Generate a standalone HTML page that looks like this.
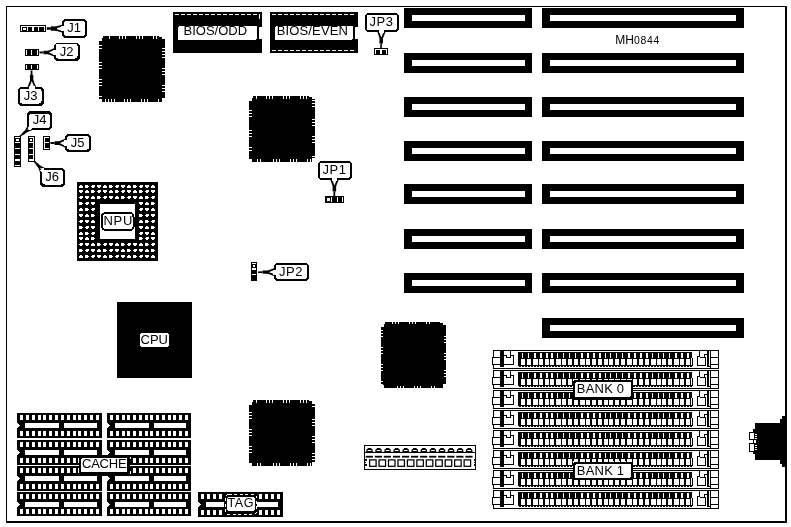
<!DOCTYPE html>
<html><head><meta charset="utf-8"><title>MH0844</title>
<style>
html,body{margin:0;padding:0;background:#fff;}
body{width:791px;height:527px;overflow:hidden;}
svg{display:block;}
text{font-family:"Liberation Sans",sans-serif;fill:#000;}
svg{will-change:transform;}
</style></head><body>
<svg width="791" height="527" viewBox="0 0 791 527" shape-rendering="crispEdges">
<rect width="791" height="527" fill="#fff"/>
<rect x="6" y="6" width="781" height="1" fill="#000"/>
<rect x="6" y="6" width="1" height="517" fill="#000"/>
<rect x="785" y="6" width="2" height="517" fill="#000"/>
<rect x="6" y="521" width="781" height="2" fill="#000"/>
<rect x="404" y="8" width="128" height="20" fill="#000"/>
<rect x="412" y="15" width="113" height="6" fill="#fff"/>
<rect x="542" y="8" width="202" height="20" fill="#000"/>
<rect x="550" y="15" width="186" height="6" fill="#fff"/>
<rect x="404" y="53" width="128" height="20" fill="#000"/>
<rect x="412" y="60" width="113" height="6" fill="#fff"/>
<rect x="542" y="53" width="202" height="20" fill="#000"/>
<rect x="550" y="60" width="186" height="6" fill="#fff"/>
<rect x="404" y="97" width="128" height="20" fill="#000"/>
<rect x="412" y="104" width="113" height="6" fill="#fff"/>
<rect x="542" y="97" width="202" height="20" fill="#000"/>
<rect x="550" y="104" width="186" height="6" fill="#fff"/>
<rect x="404" y="141" width="128" height="20" fill="#000"/>
<rect x="412" y="148" width="113" height="6" fill="#fff"/>
<rect x="542" y="141" width="202" height="20" fill="#000"/>
<rect x="550" y="148" width="186" height="6" fill="#fff"/>
<rect x="404" y="184" width="128" height="20" fill="#000"/>
<rect x="412" y="191" width="113" height="6" fill="#fff"/>
<rect x="542" y="184" width="202" height="20" fill="#000"/>
<rect x="550" y="191" width="186" height="6" fill="#fff"/>
<rect x="404" y="229" width="128" height="20" fill="#000"/>
<rect x="412" y="236" width="113" height="6" fill="#fff"/>
<rect x="542" y="229" width="202" height="20" fill="#000"/>
<rect x="550" y="236" width="186" height="6" fill="#fff"/>
<rect x="404" y="273" width="128" height="20" fill="#000"/>
<rect x="412" y="280" width="113" height="6" fill="#fff"/>
<rect x="542" y="273" width="202" height="20" fill="#000"/>
<rect x="550" y="280" width="186" height="6" fill="#fff"/>
<rect x="542" y="318" width="202" height="20" fill="#000"/>
<rect x="550" y="325" width="186" height="6" fill="#fff"/>
<polygon points="103,36 159,36 159,37 162,37 162,39 165,39 165,98 162,98 162,102 102,102 102,99 99,99 99,41 102,41 102,38 103,38" fill="#000" />
<rect x="109" y="36" width="1" height="3" fill="#fff"/>
<rect x="119" y="36" width="1" height="3" fill="#fff"/>
<rect x="122" y="36" width="1" height="3" fill="#fff"/>
<rect x="125" y="36" width="1" height="3" fill="#fff"/>
<rect x="136" y="36" width="1" height="3" fill="#fff"/>
<rect x="139" y="36" width="1" height="3" fill="#fff"/>
<rect x="142" y="36" width="1" height="3" fill="#fff"/>
<rect x="153" y="36" width="1" height="3" fill="#fff"/>
<rect x="156" y="36" width="1" height="3" fill="#fff"/>
<rect x="105" y="99" width="1" height="3" fill="#fff"/>
<rect x="108" y="99" width="1" height="3" fill="#fff"/>
<rect x="111" y="99" width="1" height="3" fill="#fff"/>
<rect x="114" y="99" width="1" height="3" fill="#fff"/>
<rect x="124" y="99" width="1" height="3" fill="#fff"/>
<rect x="127" y="99" width="1" height="3" fill="#fff"/>
<rect x="130" y="99" width="1" height="3" fill="#fff"/>
<rect x="141" y="99" width="1" height="3" fill="#fff"/>
<rect x="144" y="99" width="1" height="3" fill="#fff"/>
<rect x="147" y="99" width="1" height="3" fill="#fff"/>
<rect x="158" y="99" width="1" height="3" fill="#fff"/>
<rect x="99" y="45" width="3" height="1" fill="#fff"/>
<rect x="99" y="48" width="3" height="1" fill="#fff"/>
<rect x="99" y="62" width="3" height="1" fill="#fff"/>
<rect x="99" y="65" width="3" height="1" fill="#fff"/>
<rect x="99" y="68" width="3" height="1" fill="#fff"/>
<rect x="99" y="79" width="3" height="1" fill="#fff"/>
<rect x="99" y="82" width="3" height="1" fill="#fff"/>
<rect x="99" y="85" width="3" height="1" fill="#fff"/>
<rect x="99" y="96" width="3" height="1" fill="#fff"/>
<rect x="162" y="48" width="3" height="1" fill="#fff"/>
<rect x="162" y="51" width="3" height="1" fill="#fff"/>
<rect x="162" y="54" width="3" height="1" fill="#fff"/>
<rect x="162" y="57" width="3" height="1" fill="#fff"/>
<rect x="162" y="68" width="3" height="1" fill="#fff"/>
<rect x="162" y="71" width="3" height="1" fill="#fff"/>
<rect x="162" y="74" width="3" height="1" fill="#fff"/>
<rect x="162" y="85" width="3" height="1" fill="#fff"/>
<rect x="162" y="88" width="3" height="1" fill="#fff"/>
<rect x="162" y="91" width="3" height="1" fill="#fff"/>
<polygon points="253,96 309,96 309,97 312,97 312,99 315,99 315,158 312,158 312,162 252,162 252,159 249,159 249,101 252,101 252,98 253,98" fill="#000" />
<rect x="256" y="96" width="1" height="3" fill="#fff"/>
<rect x="266" y="96" width="1" height="3" fill="#fff"/>
<rect x="269" y="96" width="1" height="3" fill="#fff"/>
<rect x="272" y="96" width="1" height="3" fill="#fff"/>
<rect x="283" y="96" width="1" height="3" fill="#fff"/>
<rect x="286" y="96" width="1" height="3" fill="#fff"/>
<rect x="289" y="96" width="1" height="3" fill="#fff"/>
<rect x="300" y="96" width="1" height="3" fill="#fff"/>
<rect x="303" y="96" width="1" height="3" fill="#fff"/>
<rect x="306" y="96" width="1" height="3" fill="#fff"/>
<rect x="257" y="159" width="1" height="3" fill="#fff"/>
<rect x="260" y="159" width="1" height="3" fill="#fff"/>
<rect x="273" y="159" width="1" height="3" fill="#fff"/>
<rect x="276" y="159" width="1" height="3" fill="#fff"/>
<rect x="279" y="159" width="1" height="3" fill="#fff"/>
<rect x="290" y="159" width="1" height="3" fill="#fff"/>
<rect x="293" y="159" width="1" height="3" fill="#fff"/>
<rect x="296" y="159" width="1" height="3" fill="#fff"/>
<rect x="307" y="159" width="1" height="3" fill="#fff"/>
<rect x="310" y="159" width="1" height="3" fill="#fff"/>
<rect x="249" y="110" width="3" height="1" fill="#fff"/>
<rect x="249" y="113" width="3" height="1" fill="#fff"/>
<rect x="249" y="116" width="3" height="1" fill="#fff"/>
<rect x="249" y="130" width="3" height="1" fill="#fff"/>
<rect x="249" y="133" width="3" height="1" fill="#fff"/>
<rect x="249" y="136" width="3" height="1" fill="#fff"/>
<rect x="249" y="147" width="3" height="1" fill="#fff"/>
<rect x="249" y="150" width="3" height="1" fill="#fff"/>
<rect x="312" y="100" width="3" height="1" fill="#fff"/>
<rect x="312" y="103" width="3" height="1" fill="#fff"/>
<rect x="312" y="106" width="3" height="1" fill="#fff"/>
<rect x="312" y="119" width="3" height="1" fill="#fff"/>
<rect x="312" y="122" width="3" height="1" fill="#fff"/>
<rect x="312" y="125" width="3" height="1" fill="#fff"/>
<rect x="312" y="136" width="3" height="1" fill="#fff"/>
<rect x="312" y="139" width="3" height="1" fill="#fff"/>
<rect x="312" y="142" width="3" height="1" fill="#fff"/>
<rect x="312" y="156" width="3" height="1" fill="#fff"/>
<polygon points="385,322 440,322 440,323 443,323 443,325 446,325 446,384 443,384 443,388 384,388 384,385 381,385 381,327 384,327 384,324 385,324" fill="#000" />
<rect x="392" y="322" width="1" height="2" fill="#fff"/>
<rect x="395" y="322" width="1" height="2" fill="#fff"/>
<rect x="398" y="322" width="1" height="2" fill="#fff"/>
<rect x="409" y="322" width="1" height="2" fill="#fff"/>
<rect x="412" y="322" width="1" height="2" fill="#fff"/>
<rect x="415" y="322" width="1" height="2" fill="#fff"/>
<rect x="426" y="322" width="1" height="2" fill="#fff"/>
<rect x="429" y="322" width="1" height="2" fill="#fff"/>
<rect x="397" y="386" width="1" height="2" fill="#fff"/>
<rect x="400" y="386" width="1" height="2" fill="#fff"/>
<rect x="403" y="386" width="1" height="2" fill="#fff"/>
<rect x="414" y="386" width="1" height="2" fill="#fff"/>
<rect x="417" y="386" width="1" height="2" fill="#fff"/>
<rect x="420" y="386" width="1" height="2" fill="#fff"/>
<rect x="431" y="386" width="1" height="2" fill="#fff"/>
<rect x="434" y="386" width="1" height="2" fill="#fff"/>
<rect x="381" y="330" width="2" height="1" fill="#fff"/>
<rect x="381" y="333" width="2" height="1" fill="#fff"/>
<rect x="381" y="336" width="2" height="1" fill="#fff"/>
<rect x="381" y="347" width="2" height="1" fill="#fff"/>
<rect x="381" y="350" width="2" height="1" fill="#fff"/>
<rect x="381" y="353" width="2" height="1" fill="#fff"/>
<rect x="381" y="364" width="2" height="1" fill="#fff"/>
<rect x="381" y="367" width="2" height="1" fill="#fff"/>
<rect x="381" y="370" width="2" height="1" fill="#fff"/>
<rect x="381" y="381" width="2" height="1" fill="#fff"/>
<rect x="381" y="384" width="2" height="1" fill="#fff"/>
<rect x="444" y="336" width="2" height="1" fill="#fff"/>
<rect x="444" y="339" width="2" height="1" fill="#fff"/>
<rect x="444" y="342" width="2" height="1" fill="#fff"/>
<rect x="444" y="353" width="2" height="1" fill="#fff"/>
<rect x="444" y="356" width="2" height="1" fill="#fff"/>
<rect x="444" y="359" width="2" height="1" fill="#fff"/>
<rect x="444" y="370" width="2" height="1" fill="#fff"/>
<rect x="444" y="373" width="2" height="1" fill="#fff"/>
<rect x="444" y="376" width="2" height="1" fill="#fff"/>
<polygon points="253,400 309,400 309,401 312,401 312,403 315,403 315,462 312,462 312,466 252,466 252,463 249,463 249,405 252,405 252,402 253,402" fill="#000" />
<rect x="256" y="400" width="1" height="3" fill="#fff"/>
<rect x="266" y="400" width="1" height="3" fill="#fff"/>
<rect x="269" y="400" width="1" height="3" fill="#fff"/>
<rect x="272" y="400" width="1" height="3" fill="#fff"/>
<rect x="283" y="400" width="1" height="3" fill="#fff"/>
<rect x="286" y="400" width="1" height="3" fill="#fff"/>
<rect x="289" y="400" width="1" height="3" fill="#fff"/>
<rect x="300" y="400" width="1" height="3" fill="#fff"/>
<rect x="303" y="400" width="1" height="3" fill="#fff"/>
<rect x="306" y="400" width="1" height="3" fill="#fff"/>
<rect x="257" y="463" width="1" height="3" fill="#fff"/>
<rect x="260" y="463" width="1" height="3" fill="#fff"/>
<rect x="273" y="463" width="1" height="3" fill="#fff"/>
<rect x="276" y="463" width="1" height="3" fill="#fff"/>
<rect x="279" y="463" width="1" height="3" fill="#fff"/>
<rect x="290" y="463" width="1" height="3" fill="#fff"/>
<rect x="293" y="463" width="1" height="3" fill="#fff"/>
<rect x="296" y="463" width="1" height="3" fill="#fff"/>
<rect x="307" y="463" width="1" height="3" fill="#fff"/>
<rect x="310" y="463" width="1" height="3" fill="#fff"/>
<rect x="249" y="412" width="3" height="1" fill="#fff"/>
<rect x="249" y="415" width="3" height="1" fill="#fff"/>
<rect x="249" y="418" width="3" height="1" fill="#fff"/>
<rect x="249" y="429" width="3" height="1" fill="#fff"/>
<rect x="249" y="432" width="3" height="1" fill="#fff"/>
<rect x="249" y="435" width="3" height="1" fill="#fff"/>
<rect x="249" y="446" width="3" height="1" fill="#fff"/>
<rect x="249" y="449" width="3" height="1" fill="#fff"/>
<rect x="249" y="452" width="3" height="1" fill="#fff"/>
<rect x="312" y="403" width="3" height="1" fill="#fff"/>
<rect x="312" y="406" width="3" height="1" fill="#fff"/>
<rect x="312" y="419" width="3" height="1" fill="#fff"/>
<rect x="312" y="422" width="3" height="1" fill="#fff"/>
<rect x="312" y="425" width="3" height="1" fill="#fff"/>
<rect x="312" y="436" width="3" height="1" fill="#fff"/>
<rect x="312" y="439" width="3" height="1" fill="#fff"/>
<rect x="312" y="442" width="3" height="1" fill="#fff"/>
<rect x="312" y="453" width="3" height="1" fill="#fff"/>
<rect x="312" y="456" width="3" height="1" fill="#fff"/>
<rect x="312" y="459" width="3" height="1" fill="#fff"/>
<rect x="173" y="12" width="89" height="41" fill="#000"/>
<line x1="175" y1="14.5" x2="259" y2="14.5" stroke="#fff" stroke-width="1" stroke-dasharray="3.5 2.5"/>
<rect x="259" y="14" width="1" height="5" fill="#fff"/>
<rect x="178" y="26" width="79" height="14" rx="2" fill="#fff"/>
<rect x="259" y="26.5" width="3" height="12.5" fill="#fff"/>
<text x="215.3" y="35" font-size="13" text-anchor="middle" >BIOS/ODD</text>
<rect x="270" y="12" width="88" height="41" fill="#000"/>
<line x1="272" y1="14.5" x2="355" y2="14.5" stroke="#fff" stroke-width="1" stroke-dasharray="3.5 2.5"/>
<line x1="272" y1="50.5" x2="355" y2="50.5" stroke="#fff" stroke-width="1" stroke-dasharray="3.5 2.5"/>
<rect x="275" y="26" width="78" height="14" rx="2" fill="#fff"/>
<rect x="355" y="26.5" width="3" height="12.5" fill="#fff"/>
<text x="312.4" y="35" font-size="13" text-anchor="middle" letter-spacing="0.15">BIOS/EVEN</text>
<rect x="77" y="182" width="81" height="79" fill="#000"/>
<rect x="79" y="186" width="4" height="1" fill="#fff"/>
<rect x="80" y="185" width="2" height="1" fill="#fff"/>
<rect x="79" y="187" width="4" height="1" fill="#fff"/>
<rect x="79" y="191" width="4" height="1" fill="#fff"/>
<rect x="79" y="190" width="4" height="1" fill="#fff"/>
<rect x="80" y="192" width="2" height="1" fill="#fff"/>
<rect x="79" y="197" width="4" height="1" fill="#fff"/>
<rect x="80" y="196" width="3" height="1" fill="#fff"/>
<rect x="80" y="198" width="2" height="1" fill="#fff"/>
<rect x="79" y="203" width="4" height="1" fill="#fff"/>
<rect x="79" y="202" width="3" height="1" fill="#fff"/>
<rect x="79" y="204" width="3" height="1" fill="#fff"/>
<rect x="79" y="209" width="4" height="1" fill="#fff"/>
<rect x="80" y="208" width="2" height="1" fill="#fff"/>
<rect x="79" y="210" width="4" height="1" fill="#fff"/>
<rect x="79" y="215" width="4" height="1" fill="#fff"/>
<rect x="79" y="214" width="4" height="1" fill="#fff"/>
<rect x="80" y="216" width="2" height="1" fill="#fff"/>
<rect x="79" y="221" width="4" height="1" fill="#fff"/>
<rect x="80" y="220" width="3" height="1" fill="#fff"/>
<rect x="80" y="222" width="2" height="1" fill="#fff"/>
<rect x="79" y="227" width="4" height="1" fill="#fff"/>
<rect x="79" y="226" width="3" height="1" fill="#fff"/>
<rect x="79" y="228" width="3" height="1" fill="#fff"/>
<rect x="79" y="233" width="4" height="1" fill="#fff"/>
<rect x="80" y="232" width="2" height="1" fill="#fff"/>
<rect x="79" y="234" width="4" height="1" fill="#fff"/>
<rect x="79" y="238" width="4" height="1" fill="#fff"/>
<rect x="79" y="237" width="4" height="1" fill="#fff"/>
<rect x="80" y="239" width="2" height="1" fill="#fff"/>
<rect x="79" y="244" width="4" height="1" fill="#fff"/>
<rect x="80" y="243" width="3" height="1" fill="#fff"/>
<rect x="80" y="245" width="2" height="1" fill="#fff"/>
<rect x="79" y="250" width="4" height="1" fill="#fff"/>
<rect x="79" y="249" width="3" height="1" fill="#fff"/>
<rect x="79" y="251" width="3" height="1" fill="#fff"/>
<rect x="79" y="256" width="4" height="1" fill="#fff"/>
<rect x="80" y="255" width="2" height="1" fill="#fff"/>
<rect x="79" y="257" width="4" height="1" fill="#fff"/>
<rect x="85" y="186" width="4" height="1" fill="#fff"/>
<rect x="85" y="185" width="3" height="1" fill="#fff"/>
<rect x="85" y="187" width="3" height="1" fill="#fff"/>
<rect x="85" y="191" width="4" height="1" fill="#fff"/>
<rect x="86" y="190" width="2" height="1" fill="#fff"/>
<rect x="85" y="192" width="4" height="1" fill="#fff"/>
<rect x="85" y="197" width="4" height="1" fill="#fff"/>
<rect x="85" y="196" width="4" height="1" fill="#fff"/>
<rect x="86" y="198" width="2" height="1" fill="#fff"/>
<rect x="85" y="203" width="4" height="1" fill="#fff"/>
<rect x="86" y="202" width="3" height="1" fill="#fff"/>
<rect x="86" y="204" width="2" height="1" fill="#fff"/>
<rect x="85" y="209" width="4" height="1" fill="#fff"/>
<rect x="85" y="208" width="3" height="1" fill="#fff"/>
<rect x="85" y="210" width="3" height="1" fill="#fff"/>
<rect x="85" y="215" width="4" height="1" fill="#fff"/>
<rect x="86" y="214" width="2" height="1" fill="#fff"/>
<rect x="85" y="216" width="4" height="1" fill="#fff"/>
<rect x="85" y="221" width="4" height="1" fill="#fff"/>
<rect x="85" y="220" width="4" height="1" fill="#fff"/>
<rect x="86" y="222" width="2" height="1" fill="#fff"/>
<rect x="85" y="227" width="4" height="1" fill="#fff"/>
<rect x="86" y="226" width="3" height="1" fill="#fff"/>
<rect x="86" y="228" width="2" height="1" fill="#fff"/>
<rect x="85" y="233" width="4" height="1" fill="#fff"/>
<rect x="85" y="232" width="3" height="1" fill="#fff"/>
<rect x="85" y="234" width="3" height="1" fill="#fff"/>
<rect x="85" y="238" width="4" height="1" fill="#fff"/>
<rect x="86" y="237" width="2" height="1" fill="#fff"/>
<rect x="85" y="239" width="4" height="1" fill="#fff"/>
<rect x="85" y="244" width="4" height="1" fill="#fff"/>
<rect x="85" y="243" width="4" height="1" fill="#fff"/>
<rect x="86" y="245" width="2" height="1" fill="#fff"/>
<rect x="85" y="250" width="4" height="1" fill="#fff"/>
<rect x="86" y="249" width="3" height="1" fill="#fff"/>
<rect x="86" y="251" width="2" height="1" fill="#fff"/>
<rect x="85" y="256" width="4" height="1" fill="#fff"/>
<rect x="85" y="255" width="3" height="1" fill="#fff"/>
<rect x="85" y="257" width="3" height="1" fill="#fff"/>
<rect x="91" y="186" width="4" height="1" fill="#fff"/>
<rect x="92" y="185" width="3" height="1" fill="#fff"/>
<rect x="92" y="187" width="2" height="1" fill="#fff"/>
<rect x="91" y="191" width="4" height="1" fill="#fff"/>
<rect x="91" y="190" width="3" height="1" fill="#fff"/>
<rect x="91" y="192" width="3" height="1" fill="#fff"/>
<rect x="91" y="197" width="4" height="1" fill="#fff"/>
<rect x="92" y="196" width="2" height="1" fill="#fff"/>
<rect x="91" y="198" width="4" height="1" fill="#fff"/>
<rect x="91" y="203" width="4" height="1" fill="#fff"/>
<rect x="91" y="202" width="4" height="1" fill="#fff"/>
<rect x="92" y="204" width="2" height="1" fill="#fff"/>
<rect x="91" y="209" width="4" height="1" fill="#fff"/>
<rect x="92" y="208" width="3" height="1" fill="#fff"/>
<rect x="92" y="210" width="2" height="1" fill="#fff"/>
<rect x="91" y="215" width="4" height="1" fill="#fff"/>
<rect x="91" y="214" width="3" height="1" fill="#fff"/>
<rect x="91" y="216" width="3" height="1" fill="#fff"/>
<rect x="91" y="221" width="4" height="1" fill="#fff"/>
<rect x="92" y="220" width="2" height="1" fill="#fff"/>
<rect x="91" y="222" width="4" height="1" fill="#fff"/>
<rect x="91" y="227" width="4" height="1" fill="#fff"/>
<rect x="91" y="226" width="4" height="1" fill="#fff"/>
<rect x="92" y="228" width="2" height="1" fill="#fff"/>
<rect x="91" y="233" width="4" height="1" fill="#fff"/>
<rect x="92" y="232" width="3" height="1" fill="#fff"/>
<rect x="92" y="234" width="2" height="1" fill="#fff"/>
<rect x="91" y="238" width="4" height="1" fill="#fff"/>
<rect x="91" y="237" width="3" height="1" fill="#fff"/>
<rect x="91" y="239" width="3" height="1" fill="#fff"/>
<rect x="91" y="244" width="4" height="1" fill="#fff"/>
<rect x="92" y="243" width="2" height="1" fill="#fff"/>
<rect x="91" y="245" width="4" height="1" fill="#fff"/>
<rect x="91" y="250" width="4" height="1" fill="#fff"/>
<rect x="91" y="249" width="4" height="1" fill="#fff"/>
<rect x="92" y="251" width="2" height="1" fill="#fff"/>
<rect x="91" y="256" width="4" height="1" fill="#fff"/>
<rect x="92" y="255" width="3" height="1" fill="#fff"/>
<rect x="92" y="257" width="2" height="1" fill="#fff"/>
<rect x="97" y="186" width="4" height="1" fill="#fff"/>
<rect x="97" y="185" width="4" height="1" fill="#fff"/>
<rect x="98" y="187" width="2" height="1" fill="#fff"/>
<rect x="97" y="191" width="4" height="1" fill="#fff"/>
<rect x="98" y="190" width="3" height="1" fill="#fff"/>
<rect x="98" y="192" width="2" height="1" fill="#fff"/>
<rect x="97" y="197" width="4" height="1" fill="#fff"/>
<rect x="97" y="196" width="3" height="1" fill="#fff"/>
<rect x="97" y="198" width="3" height="1" fill="#fff"/>
<rect x="97" y="244" width="4" height="1" fill="#fff"/>
<rect x="97" y="243" width="3" height="1" fill="#fff"/>
<rect x="97" y="245" width="3" height="1" fill="#fff"/>
<rect x="97" y="250" width="4" height="1" fill="#fff"/>
<rect x="98" y="249" width="2" height="1" fill="#fff"/>
<rect x="97" y="251" width="4" height="1" fill="#fff"/>
<rect x="97" y="256" width="4" height="1" fill="#fff"/>
<rect x="97" y="255" width="4" height="1" fill="#fff"/>
<rect x="98" y="257" width="2" height="1" fill="#fff"/>
<rect x="103" y="186" width="4" height="1" fill="#fff"/>
<rect x="104" y="185" width="2" height="1" fill="#fff"/>
<rect x="103" y="187" width="4" height="1" fill="#fff"/>
<rect x="103" y="191" width="4" height="1" fill="#fff"/>
<rect x="103" y="190" width="4" height="1" fill="#fff"/>
<rect x="104" y="192" width="2" height="1" fill="#fff"/>
<rect x="103" y="197" width="4" height="1" fill="#fff"/>
<rect x="104" y="196" width="3" height="1" fill="#fff"/>
<rect x="104" y="198" width="2" height="1" fill="#fff"/>
<rect x="103" y="244" width="4" height="1" fill="#fff"/>
<rect x="104" y="243" width="3" height="1" fill="#fff"/>
<rect x="104" y="245" width="2" height="1" fill="#fff"/>
<rect x="103" y="250" width="4" height="1" fill="#fff"/>
<rect x="103" y="249" width="3" height="1" fill="#fff"/>
<rect x="103" y="251" width="3" height="1" fill="#fff"/>
<rect x="103" y="256" width="4" height="1" fill="#fff"/>
<rect x="104" y="255" width="2" height="1" fill="#fff"/>
<rect x="103" y="257" width="4" height="1" fill="#fff"/>
<rect x="109" y="186" width="4" height="1" fill="#fff"/>
<rect x="109" y="185" width="3" height="1" fill="#fff"/>
<rect x="109" y="187" width="3" height="1" fill="#fff"/>
<rect x="109" y="191" width="4" height="1" fill="#fff"/>
<rect x="110" y="190" width="2" height="1" fill="#fff"/>
<rect x="109" y="192" width="4" height="1" fill="#fff"/>
<rect x="109" y="197" width="4" height="1" fill="#fff"/>
<rect x="109" y="196" width="4" height="1" fill="#fff"/>
<rect x="110" y="198" width="2" height="1" fill="#fff"/>
<rect x="109" y="244" width="4" height="1" fill="#fff"/>
<rect x="109" y="243" width="4" height="1" fill="#fff"/>
<rect x="110" y="245" width="2" height="1" fill="#fff"/>
<rect x="109" y="250" width="4" height="1" fill="#fff"/>
<rect x="110" y="249" width="3" height="1" fill="#fff"/>
<rect x="110" y="251" width="2" height="1" fill="#fff"/>
<rect x="109" y="256" width="4" height="1" fill="#fff"/>
<rect x="109" y="255" width="3" height="1" fill="#fff"/>
<rect x="109" y="257" width="3" height="1" fill="#fff"/>
<rect x="115" y="186" width="4" height="1" fill="#fff"/>
<rect x="116" y="185" width="3" height="1" fill="#fff"/>
<rect x="116" y="187" width="2" height="1" fill="#fff"/>
<rect x="115" y="191" width="4" height="1" fill="#fff"/>
<rect x="115" y="190" width="3" height="1" fill="#fff"/>
<rect x="115" y="192" width="3" height="1" fill="#fff"/>
<rect x="115" y="197" width="4" height="1" fill="#fff"/>
<rect x="116" y="196" width="2" height="1" fill="#fff"/>
<rect x="115" y="198" width="4" height="1" fill="#fff"/>
<rect x="115" y="244" width="4" height="1" fill="#fff"/>
<rect x="116" y="243" width="2" height="1" fill="#fff"/>
<rect x="115" y="245" width="4" height="1" fill="#fff"/>
<rect x="115" y="250" width="4" height="1" fill="#fff"/>
<rect x="115" y="249" width="4" height="1" fill="#fff"/>
<rect x="116" y="251" width="2" height="1" fill="#fff"/>
<rect x="115" y="256" width="4" height="1" fill="#fff"/>
<rect x="116" y="255" width="3" height="1" fill="#fff"/>
<rect x="116" y="257" width="2" height="1" fill="#fff"/>
<rect x="121" y="186" width="4" height="1" fill="#fff"/>
<rect x="121" y="185" width="4" height="1" fill="#fff"/>
<rect x="122" y="187" width="2" height="1" fill="#fff"/>
<rect x="121" y="191" width="4" height="1" fill="#fff"/>
<rect x="122" y="190" width="3" height="1" fill="#fff"/>
<rect x="122" y="192" width="2" height="1" fill="#fff"/>
<rect x="121" y="197" width="4" height="1" fill="#fff"/>
<rect x="121" y="196" width="3" height="1" fill="#fff"/>
<rect x="121" y="198" width="3" height="1" fill="#fff"/>
<rect x="121" y="244" width="4" height="1" fill="#fff"/>
<rect x="121" y="243" width="3" height="1" fill="#fff"/>
<rect x="121" y="245" width="3" height="1" fill="#fff"/>
<rect x="121" y="250" width="4" height="1" fill="#fff"/>
<rect x="122" y="249" width="2" height="1" fill="#fff"/>
<rect x="121" y="251" width="4" height="1" fill="#fff"/>
<rect x="121" y="256" width="4" height="1" fill="#fff"/>
<rect x="121" y="255" width="4" height="1" fill="#fff"/>
<rect x="122" y="257" width="2" height="1" fill="#fff"/>
<rect x="127" y="186" width="4" height="1" fill="#fff"/>
<rect x="128" y="185" width="2" height="1" fill="#fff"/>
<rect x="127" y="187" width="4" height="1" fill="#fff"/>
<rect x="127" y="191" width="4" height="1" fill="#fff"/>
<rect x="127" y="190" width="4" height="1" fill="#fff"/>
<rect x="128" y="192" width="2" height="1" fill="#fff"/>
<rect x="127" y="197" width="4" height="1" fill="#fff"/>
<rect x="128" y="196" width="3" height="1" fill="#fff"/>
<rect x="128" y="198" width="2" height="1" fill="#fff"/>
<rect x="127" y="244" width="4" height="1" fill="#fff"/>
<rect x="128" y="243" width="3" height="1" fill="#fff"/>
<rect x="128" y="245" width="2" height="1" fill="#fff"/>
<rect x="127" y="250" width="4" height="1" fill="#fff"/>
<rect x="127" y="249" width="3" height="1" fill="#fff"/>
<rect x="127" y="251" width="3" height="1" fill="#fff"/>
<rect x="127" y="256" width="4" height="1" fill="#fff"/>
<rect x="128" y="255" width="2" height="1" fill="#fff"/>
<rect x="127" y="257" width="4" height="1" fill="#fff"/>
<rect x="133" y="186" width="4" height="1" fill="#fff"/>
<rect x="133" y="185" width="3" height="1" fill="#fff"/>
<rect x="133" y="187" width="3" height="1" fill="#fff"/>
<rect x="133" y="191" width="4" height="1" fill="#fff"/>
<rect x="134" y="190" width="2" height="1" fill="#fff"/>
<rect x="133" y="192" width="4" height="1" fill="#fff"/>
<rect x="133" y="197" width="4" height="1" fill="#fff"/>
<rect x="133" y="196" width="4" height="1" fill="#fff"/>
<rect x="134" y="198" width="2" height="1" fill="#fff"/>
<rect x="133" y="244" width="4" height="1" fill="#fff"/>
<rect x="133" y="243" width="4" height="1" fill="#fff"/>
<rect x="134" y="245" width="2" height="1" fill="#fff"/>
<rect x="133" y="250" width="4" height="1" fill="#fff"/>
<rect x="134" y="249" width="3" height="1" fill="#fff"/>
<rect x="134" y="251" width="2" height="1" fill="#fff"/>
<rect x="133" y="256" width="4" height="1" fill="#fff"/>
<rect x="133" y="255" width="3" height="1" fill="#fff"/>
<rect x="133" y="257" width="3" height="1" fill="#fff"/>
<rect x="139" y="186" width="4" height="1" fill="#fff"/>
<rect x="140" y="185" width="3" height="1" fill="#fff"/>
<rect x="140" y="187" width="2" height="1" fill="#fff"/>
<rect x="139" y="191" width="4" height="1" fill="#fff"/>
<rect x="139" y="190" width="3" height="1" fill="#fff"/>
<rect x="139" y="192" width="3" height="1" fill="#fff"/>
<rect x="139" y="197" width="4" height="1" fill="#fff"/>
<rect x="140" y="196" width="2" height="1" fill="#fff"/>
<rect x="139" y="198" width="4" height="1" fill="#fff"/>
<rect x="139" y="203" width="4" height="1" fill="#fff"/>
<rect x="139" y="202" width="4" height="1" fill="#fff"/>
<rect x="140" y="204" width="2" height="1" fill="#fff"/>
<rect x="139" y="209" width="4" height="1" fill="#fff"/>
<rect x="140" y="208" width="3" height="1" fill="#fff"/>
<rect x="140" y="210" width="2" height="1" fill="#fff"/>
<rect x="139" y="215" width="4" height="1" fill="#fff"/>
<rect x="139" y="214" width="3" height="1" fill="#fff"/>
<rect x="139" y="216" width="3" height="1" fill="#fff"/>
<rect x="139" y="221" width="4" height="1" fill="#fff"/>
<rect x="140" y="220" width="2" height="1" fill="#fff"/>
<rect x="139" y="222" width="4" height="1" fill="#fff"/>
<rect x="139" y="227" width="4" height="1" fill="#fff"/>
<rect x="139" y="226" width="4" height="1" fill="#fff"/>
<rect x="140" y="228" width="2" height="1" fill="#fff"/>
<rect x="139" y="233" width="4" height="1" fill="#fff"/>
<rect x="140" y="232" width="3" height="1" fill="#fff"/>
<rect x="140" y="234" width="2" height="1" fill="#fff"/>
<rect x="139" y="238" width="4" height="1" fill="#fff"/>
<rect x="139" y="237" width="3" height="1" fill="#fff"/>
<rect x="139" y="239" width="3" height="1" fill="#fff"/>
<rect x="139" y="244" width="4" height="1" fill="#fff"/>
<rect x="140" y="243" width="2" height="1" fill="#fff"/>
<rect x="139" y="245" width="4" height="1" fill="#fff"/>
<rect x="139" y="250" width="4" height="1" fill="#fff"/>
<rect x="139" y="249" width="4" height="1" fill="#fff"/>
<rect x="140" y="251" width="2" height="1" fill="#fff"/>
<rect x="139" y="256" width="4" height="1" fill="#fff"/>
<rect x="140" y="255" width="3" height="1" fill="#fff"/>
<rect x="140" y="257" width="2" height="1" fill="#fff"/>
<rect x="145" y="186" width="4" height="1" fill="#fff"/>
<rect x="145" y="185" width="4" height="1" fill="#fff"/>
<rect x="146" y="187" width="2" height="1" fill="#fff"/>
<rect x="145" y="191" width="4" height="1" fill="#fff"/>
<rect x="146" y="190" width="3" height="1" fill="#fff"/>
<rect x="146" y="192" width="2" height="1" fill="#fff"/>
<rect x="145" y="197" width="4" height="1" fill="#fff"/>
<rect x="145" y="196" width="3" height="1" fill="#fff"/>
<rect x="145" y="198" width="3" height="1" fill="#fff"/>
<rect x="145" y="203" width="4" height="1" fill="#fff"/>
<rect x="146" y="202" width="2" height="1" fill="#fff"/>
<rect x="145" y="204" width="4" height="1" fill="#fff"/>
<rect x="145" y="209" width="4" height="1" fill="#fff"/>
<rect x="145" y="208" width="4" height="1" fill="#fff"/>
<rect x="146" y="210" width="2" height="1" fill="#fff"/>
<rect x="145" y="215" width="4" height="1" fill="#fff"/>
<rect x="146" y="214" width="3" height="1" fill="#fff"/>
<rect x="146" y="216" width="2" height="1" fill="#fff"/>
<rect x="145" y="221" width="4" height="1" fill="#fff"/>
<rect x="145" y="220" width="3" height="1" fill="#fff"/>
<rect x="145" y="222" width="3" height="1" fill="#fff"/>
<rect x="145" y="227" width="4" height="1" fill="#fff"/>
<rect x="146" y="226" width="2" height="1" fill="#fff"/>
<rect x="145" y="228" width="4" height="1" fill="#fff"/>
<rect x="145" y="233" width="4" height="1" fill="#fff"/>
<rect x="145" y="232" width="4" height="1" fill="#fff"/>
<rect x="146" y="234" width="2" height="1" fill="#fff"/>
<rect x="145" y="238" width="4" height="1" fill="#fff"/>
<rect x="146" y="237" width="3" height="1" fill="#fff"/>
<rect x="146" y="239" width="2" height="1" fill="#fff"/>
<rect x="145" y="244" width="4" height="1" fill="#fff"/>
<rect x="145" y="243" width="3" height="1" fill="#fff"/>
<rect x="145" y="245" width="3" height="1" fill="#fff"/>
<rect x="145" y="250" width="4" height="1" fill="#fff"/>
<rect x="146" y="249" width="2" height="1" fill="#fff"/>
<rect x="145" y="251" width="4" height="1" fill="#fff"/>
<rect x="145" y="256" width="4" height="1" fill="#fff"/>
<rect x="145" y="255" width="4" height="1" fill="#fff"/>
<rect x="146" y="257" width="2" height="1" fill="#fff"/>
<rect x="151" y="186" width="4" height="1" fill="#fff"/>
<rect x="152" y="185" width="2" height="1" fill="#fff"/>
<rect x="151" y="187" width="4" height="1" fill="#fff"/>
<rect x="151" y="191" width="4" height="1" fill="#fff"/>
<rect x="151" y="190" width="4" height="1" fill="#fff"/>
<rect x="152" y="192" width="2" height="1" fill="#fff"/>
<rect x="151" y="197" width="4" height="1" fill="#fff"/>
<rect x="152" y="196" width="3" height="1" fill="#fff"/>
<rect x="152" y="198" width="2" height="1" fill="#fff"/>
<rect x="151" y="203" width="4" height="1" fill="#fff"/>
<rect x="151" y="202" width="3" height="1" fill="#fff"/>
<rect x="151" y="204" width="3" height="1" fill="#fff"/>
<rect x="151" y="209" width="4" height="1" fill="#fff"/>
<rect x="152" y="208" width="2" height="1" fill="#fff"/>
<rect x="151" y="210" width="4" height="1" fill="#fff"/>
<rect x="151" y="215" width="4" height="1" fill="#fff"/>
<rect x="151" y="214" width="4" height="1" fill="#fff"/>
<rect x="152" y="216" width="2" height="1" fill="#fff"/>
<rect x="151" y="221" width="4" height="1" fill="#fff"/>
<rect x="152" y="220" width="3" height="1" fill="#fff"/>
<rect x="152" y="222" width="2" height="1" fill="#fff"/>
<rect x="151" y="227" width="4" height="1" fill="#fff"/>
<rect x="151" y="226" width="3" height="1" fill="#fff"/>
<rect x="151" y="228" width="3" height="1" fill="#fff"/>
<rect x="151" y="233" width="4" height="1" fill="#fff"/>
<rect x="152" y="232" width="2" height="1" fill="#fff"/>
<rect x="151" y="234" width="4" height="1" fill="#fff"/>
<rect x="151" y="238" width="4" height="1" fill="#fff"/>
<rect x="151" y="237" width="4" height="1" fill="#fff"/>
<rect x="152" y="239" width="2" height="1" fill="#fff"/>
<rect x="151" y="244" width="4" height="1" fill="#fff"/>
<rect x="152" y="243" width="3" height="1" fill="#fff"/>
<rect x="152" y="245" width="2" height="1" fill="#fff"/>
<rect x="151" y="250" width="4" height="1" fill="#fff"/>
<rect x="151" y="249" width="3" height="1" fill="#fff"/>
<rect x="151" y="251" width="3" height="1" fill="#fff"/>
<rect x="151" y="256" width="4" height="1" fill="#fff"/>
<rect x="152" y="255" width="2" height="1" fill="#fff"/>
<rect x="151" y="257" width="4" height="1" fill="#fff"/>
<rect x="100" y="204" width="35" height="35" fill="#fff"/>
<rect x="102" y="213" width="31.5" height="17" rx="3.5" fill="#fff" stroke="#000" stroke-width="2"/>
<text x="118.3" y="224.7" font-size="13" text-anchor="middle" letter-spacing="0.7">NPU</text>
<rect x="117" y="302" width="75" height="76" fill="#000"/>
<rect x="140" y="333" width="29" height="14" rx="2.5" fill="#fff"/>
<text x="154.3" y="343.7" font-size="13" text-anchor="middle" >CPU</text>
<rect x="17" y="413" width="85" height="25" fill="#000"/>
<rect x="20" y="415" width="3" height="5" fill="#fff"/>
<rect x="20" y="431" width="3" height="5" fill="#fff"/>
<rect x="26" y="415" width="3" height="5" fill="#fff"/>
<rect x="26" y="431" width="3" height="5" fill="#fff"/>
<rect x="32" y="415" width="3" height="5" fill="#fff"/>
<rect x="32" y="431" width="3" height="5" fill="#fff"/>
<rect x="38" y="415" width="3" height="5" fill="#fff"/>
<rect x="38" y="431" width="3" height="5" fill="#fff"/>
<rect x="43" y="415" width="3" height="5" fill="#fff"/>
<rect x="43" y="431" width="3" height="5" fill="#fff"/>
<rect x="49" y="415" width="3" height="5" fill="#fff"/>
<rect x="49" y="431" width="3" height="5" fill="#fff"/>
<rect x="55" y="415" width="3" height="5" fill="#fff"/>
<rect x="55" y="431" width="3" height="5" fill="#fff"/>
<rect x="61" y="415" width="3" height="5" fill="#fff"/>
<rect x="61" y="431" width="3" height="5" fill="#fff"/>
<rect x="67" y="415" width="3" height="5" fill="#fff"/>
<rect x="67" y="431" width="3" height="5" fill="#fff"/>
<rect x="73" y="415" width="3" height="5" fill="#fff"/>
<rect x="73" y="431" width="3" height="5" fill="#fff"/>
<rect x="78" y="415" width="3" height="5" fill="#fff"/>
<rect x="78" y="431" width="3" height="5" fill="#fff"/>
<rect x="84" y="415" width="3" height="5" fill="#fff"/>
<rect x="84" y="431" width="3" height="5" fill="#fff"/>
<rect x="90" y="415" width="3" height="5" fill="#fff"/>
<rect x="90" y="431" width="3" height="5" fill="#fff"/>
<rect x="96" y="415" width="3" height="5" fill="#fff"/>
<rect x="96" y="431" width="3" height="5" fill="#fff"/>
<rect x="25" y="423" width="34" height="5" fill="#fff"/>
<rect x="64" y="423" width="33" height="5" fill="#fff"/>
<path d="M17,423 h1 l2,2.5 l-2,2.5 h-1 z" fill="#fff"/>
<rect x="107" y="413" width="84" height="25" fill="#000"/>
<rect x="110" y="415" width="3" height="5" fill="#fff"/>
<rect x="110" y="431" width="3" height="5" fill="#fff"/>
<rect x="116" y="415" width="3" height="5" fill="#fff"/>
<rect x="116" y="431" width="3" height="5" fill="#fff"/>
<rect x="122" y="415" width="3" height="5" fill="#fff"/>
<rect x="122" y="431" width="3" height="5" fill="#fff"/>
<rect x="127" y="415" width="3" height="5" fill="#fff"/>
<rect x="127" y="431" width="3" height="5" fill="#fff"/>
<rect x="133" y="415" width="3" height="5" fill="#fff"/>
<rect x="133" y="431" width="3" height="5" fill="#fff"/>
<rect x="139" y="415" width="3" height="5" fill="#fff"/>
<rect x="139" y="431" width="3" height="5" fill="#fff"/>
<rect x="145" y="415" width="3" height="5" fill="#fff"/>
<rect x="145" y="431" width="3" height="5" fill="#fff"/>
<rect x="150" y="415" width="3" height="5" fill="#fff"/>
<rect x="150" y="431" width="3" height="5" fill="#fff"/>
<rect x="156" y="415" width="3" height="5" fill="#fff"/>
<rect x="156" y="431" width="3" height="5" fill="#fff"/>
<rect x="162" y="415" width="3" height="5" fill="#fff"/>
<rect x="162" y="431" width="3" height="5" fill="#fff"/>
<rect x="168" y="415" width="3" height="5" fill="#fff"/>
<rect x="168" y="431" width="3" height="5" fill="#fff"/>
<rect x="173" y="415" width="3" height="5" fill="#fff"/>
<rect x="173" y="431" width="3" height="5" fill="#fff"/>
<rect x="179" y="415" width="3" height="5" fill="#fff"/>
<rect x="179" y="431" width="3" height="5" fill="#fff"/>
<rect x="185" y="415" width="3" height="5" fill="#fff"/>
<rect x="185" y="431" width="3" height="5" fill="#fff"/>
<rect x="115" y="423" width="34" height="5" fill="#fff"/>
<rect x="154" y="423" width="32" height="5" fill="#fff"/>
<path d="M107,423 h1 l2,2.5 l-2,2.5 h-1 z" fill="#fff"/>
<rect x="17" y="440" width="85" height="25" fill="#000"/>
<rect x="20" y="442" width="3" height="5" fill="#fff"/>
<rect x="20" y="458" width="3" height="5" fill="#fff"/>
<rect x="26" y="442" width="3" height="5" fill="#fff"/>
<rect x="26" y="458" width="3" height="5" fill="#fff"/>
<rect x="32" y="442" width="3" height="5" fill="#fff"/>
<rect x="32" y="458" width="3" height="5" fill="#fff"/>
<rect x="38" y="442" width="3" height="5" fill="#fff"/>
<rect x="38" y="458" width="3" height="5" fill="#fff"/>
<rect x="43" y="442" width="3" height="5" fill="#fff"/>
<rect x="43" y="458" width="3" height="5" fill="#fff"/>
<rect x="49" y="442" width="3" height="5" fill="#fff"/>
<rect x="49" y="458" width="3" height="5" fill="#fff"/>
<rect x="55" y="442" width="3" height="5" fill="#fff"/>
<rect x="55" y="458" width="3" height="5" fill="#fff"/>
<rect x="61" y="442" width="3" height="5" fill="#fff"/>
<rect x="61" y="458" width="3" height="5" fill="#fff"/>
<rect x="67" y="442" width="3" height="5" fill="#fff"/>
<rect x="67" y="458" width="3" height="5" fill="#fff"/>
<rect x="73" y="442" width="3" height="5" fill="#fff"/>
<rect x="73" y="458" width="3" height="5" fill="#fff"/>
<rect x="78" y="442" width="3" height="5" fill="#fff"/>
<rect x="78" y="458" width="3" height="5" fill="#fff"/>
<rect x="84" y="442" width="3" height="5" fill="#fff"/>
<rect x="84" y="458" width="3" height="5" fill="#fff"/>
<rect x="90" y="442" width="3" height="5" fill="#fff"/>
<rect x="90" y="458" width="3" height="5" fill="#fff"/>
<rect x="96" y="442" width="3" height="5" fill="#fff"/>
<rect x="96" y="458" width="3" height="5" fill="#fff"/>
<rect x="25" y="450" width="34" height="5" fill="#fff"/>
<rect x="64" y="450" width="33" height="5" fill="#fff"/>
<path d="M17,450 h1 l2,2.5 l-2,2.5 h-1 z" fill="#fff"/>
<rect x="107" y="440" width="84" height="25" fill="#000"/>
<rect x="110" y="442" width="3" height="5" fill="#fff"/>
<rect x="110" y="458" width="3" height="5" fill="#fff"/>
<rect x="116" y="442" width="3" height="5" fill="#fff"/>
<rect x="116" y="458" width="3" height="5" fill="#fff"/>
<rect x="122" y="442" width="3" height="5" fill="#fff"/>
<rect x="122" y="458" width="3" height="5" fill="#fff"/>
<rect x="127" y="442" width="3" height="5" fill="#fff"/>
<rect x="127" y="458" width="3" height="5" fill="#fff"/>
<rect x="133" y="442" width="3" height="5" fill="#fff"/>
<rect x="133" y="458" width="3" height="5" fill="#fff"/>
<rect x="139" y="442" width="3" height="5" fill="#fff"/>
<rect x="139" y="458" width="3" height="5" fill="#fff"/>
<rect x="145" y="442" width="3" height="5" fill="#fff"/>
<rect x="145" y="458" width="3" height="5" fill="#fff"/>
<rect x="150" y="442" width="3" height="5" fill="#fff"/>
<rect x="150" y="458" width="3" height="5" fill="#fff"/>
<rect x="156" y="442" width="3" height="5" fill="#fff"/>
<rect x="156" y="458" width="3" height="5" fill="#fff"/>
<rect x="162" y="442" width="3" height="5" fill="#fff"/>
<rect x="162" y="458" width="3" height="5" fill="#fff"/>
<rect x="168" y="442" width="3" height="5" fill="#fff"/>
<rect x="168" y="458" width="3" height="5" fill="#fff"/>
<rect x="173" y="442" width="3" height="5" fill="#fff"/>
<rect x="173" y="458" width="3" height="5" fill="#fff"/>
<rect x="179" y="442" width="3" height="5" fill="#fff"/>
<rect x="179" y="458" width="3" height="5" fill="#fff"/>
<rect x="185" y="442" width="3" height="5" fill="#fff"/>
<rect x="185" y="458" width="3" height="5" fill="#fff"/>
<rect x="115" y="450" width="34" height="5" fill="#fff"/>
<rect x="154" y="450" width="32" height="5" fill="#fff"/>
<path d="M107,450 h1 l2,2.5 l-2,2.5 h-1 z" fill="#fff"/>
<rect x="17" y="466" width="85" height="25" fill="#000"/>
<rect x="20" y="468" width="3" height="5" fill="#fff"/>
<rect x="20" y="484" width="3" height="5" fill="#fff"/>
<rect x="26" y="468" width="3" height="5" fill="#fff"/>
<rect x="26" y="484" width="3" height="5" fill="#fff"/>
<rect x="32" y="468" width="3" height="5" fill="#fff"/>
<rect x="32" y="484" width="3" height="5" fill="#fff"/>
<rect x="38" y="468" width="3" height="5" fill="#fff"/>
<rect x="38" y="484" width="3" height="5" fill="#fff"/>
<rect x="43" y="468" width="3" height="5" fill="#fff"/>
<rect x="43" y="484" width="3" height="5" fill="#fff"/>
<rect x="49" y="468" width="3" height="5" fill="#fff"/>
<rect x="49" y="484" width="3" height="5" fill="#fff"/>
<rect x="55" y="468" width="3" height="5" fill="#fff"/>
<rect x="55" y="484" width="3" height="5" fill="#fff"/>
<rect x="61" y="468" width="3" height="5" fill="#fff"/>
<rect x="61" y="484" width="3" height="5" fill="#fff"/>
<rect x="67" y="468" width="3" height="5" fill="#fff"/>
<rect x="67" y="484" width="3" height="5" fill="#fff"/>
<rect x="73" y="468" width="3" height="5" fill="#fff"/>
<rect x="73" y="484" width="3" height="5" fill="#fff"/>
<rect x="78" y="468" width="3" height="5" fill="#fff"/>
<rect x="78" y="484" width="3" height="5" fill="#fff"/>
<rect x="84" y="468" width="3" height="5" fill="#fff"/>
<rect x="84" y="484" width="3" height="5" fill="#fff"/>
<rect x="90" y="468" width="3" height="5" fill="#fff"/>
<rect x="90" y="484" width="3" height="5" fill="#fff"/>
<rect x="96" y="468" width="3" height="5" fill="#fff"/>
<rect x="96" y="484" width="3" height="5" fill="#fff"/>
<rect x="25" y="476" width="34" height="5" fill="#fff"/>
<rect x="64" y="476" width="33" height="5" fill="#fff"/>
<path d="M17,476 h1 l2,2.5 l-2,2.5 h-1 z" fill="#fff"/>
<rect x="107" y="466" width="84" height="25" fill="#000"/>
<rect x="110" y="468" width="3" height="5" fill="#fff"/>
<rect x="110" y="484" width="3" height="5" fill="#fff"/>
<rect x="116" y="468" width="3" height="5" fill="#fff"/>
<rect x="116" y="484" width="3" height="5" fill="#fff"/>
<rect x="122" y="468" width="3" height="5" fill="#fff"/>
<rect x="122" y="484" width="3" height="5" fill="#fff"/>
<rect x="127" y="468" width="3" height="5" fill="#fff"/>
<rect x="127" y="484" width="3" height="5" fill="#fff"/>
<rect x="133" y="468" width="3" height="5" fill="#fff"/>
<rect x="133" y="484" width="3" height="5" fill="#fff"/>
<rect x="139" y="468" width="3" height="5" fill="#fff"/>
<rect x="139" y="484" width="3" height="5" fill="#fff"/>
<rect x="145" y="468" width="3" height="5" fill="#fff"/>
<rect x="145" y="484" width="3" height="5" fill="#fff"/>
<rect x="150" y="468" width="3" height="5" fill="#fff"/>
<rect x="150" y="484" width="3" height="5" fill="#fff"/>
<rect x="156" y="468" width="3" height="5" fill="#fff"/>
<rect x="156" y="484" width="3" height="5" fill="#fff"/>
<rect x="162" y="468" width="3" height="5" fill="#fff"/>
<rect x="162" y="484" width="3" height="5" fill="#fff"/>
<rect x="168" y="468" width="3" height="5" fill="#fff"/>
<rect x="168" y="484" width="3" height="5" fill="#fff"/>
<rect x="173" y="468" width="3" height="5" fill="#fff"/>
<rect x="173" y="484" width="3" height="5" fill="#fff"/>
<rect x="179" y="468" width="3" height="5" fill="#fff"/>
<rect x="179" y="484" width="3" height="5" fill="#fff"/>
<rect x="185" y="468" width="3" height="5" fill="#fff"/>
<rect x="185" y="484" width="3" height="5" fill="#fff"/>
<rect x="115" y="476" width="34" height="5" fill="#fff"/>
<rect x="154" y="476" width="32" height="5" fill="#fff"/>
<path d="M107,476 h1 l2,2.5 l-2,2.5 h-1 z" fill="#fff"/>
<rect x="17" y="492" width="85" height="24" fill="#000"/>
<rect x="20" y="494" width="3" height="5" fill="#fff"/>
<rect x="20" y="509" width="3" height="5" fill="#fff"/>
<rect x="26" y="494" width="3" height="5" fill="#fff"/>
<rect x="26" y="509" width="3" height="5" fill="#fff"/>
<rect x="32" y="494" width="3" height="5" fill="#fff"/>
<rect x="32" y="509" width="3" height="5" fill="#fff"/>
<rect x="38" y="494" width="3" height="5" fill="#fff"/>
<rect x="38" y="509" width="3" height="5" fill="#fff"/>
<rect x="43" y="494" width="3" height="5" fill="#fff"/>
<rect x="43" y="509" width="3" height="5" fill="#fff"/>
<rect x="49" y="494" width="3" height="5" fill="#fff"/>
<rect x="49" y="509" width="3" height="5" fill="#fff"/>
<rect x="55" y="494" width="3" height="5" fill="#fff"/>
<rect x="55" y="509" width="3" height="5" fill="#fff"/>
<rect x="61" y="494" width="3" height="5" fill="#fff"/>
<rect x="61" y="509" width="3" height="5" fill="#fff"/>
<rect x="67" y="494" width="3" height="5" fill="#fff"/>
<rect x="67" y="509" width="3" height="5" fill="#fff"/>
<rect x="73" y="494" width="3" height="5" fill="#fff"/>
<rect x="73" y="509" width="3" height="5" fill="#fff"/>
<rect x="78" y="494" width="3" height="5" fill="#fff"/>
<rect x="78" y="509" width="3" height="5" fill="#fff"/>
<rect x="84" y="494" width="3" height="5" fill="#fff"/>
<rect x="84" y="509" width="3" height="5" fill="#fff"/>
<rect x="90" y="494" width="3" height="5" fill="#fff"/>
<rect x="90" y="509" width="3" height="5" fill="#fff"/>
<rect x="96" y="494" width="3" height="5" fill="#fff"/>
<rect x="96" y="509" width="3" height="5" fill="#fff"/>
<rect x="25" y="502" width="34" height="5" fill="#fff"/>
<rect x="64" y="502" width="33" height="5" fill="#fff"/>
<path d="M17,502 h1 l2,2.5 l-2,2.5 h-1 z" fill="#fff"/>
<rect x="107" y="492" width="84" height="24" fill="#000"/>
<rect x="110" y="494" width="3" height="5" fill="#fff"/>
<rect x="110" y="509" width="3" height="5" fill="#fff"/>
<rect x="116" y="494" width="3" height="5" fill="#fff"/>
<rect x="116" y="509" width="3" height="5" fill="#fff"/>
<rect x="122" y="494" width="3" height="5" fill="#fff"/>
<rect x="122" y="509" width="3" height="5" fill="#fff"/>
<rect x="127" y="494" width="3" height="5" fill="#fff"/>
<rect x="127" y="509" width="3" height="5" fill="#fff"/>
<rect x="133" y="494" width="3" height="5" fill="#fff"/>
<rect x="133" y="509" width="3" height="5" fill="#fff"/>
<rect x="139" y="494" width="3" height="5" fill="#fff"/>
<rect x="139" y="509" width="3" height="5" fill="#fff"/>
<rect x="145" y="494" width="3" height="5" fill="#fff"/>
<rect x="145" y="509" width="3" height="5" fill="#fff"/>
<rect x="150" y="494" width="3" height="5" fill="#fff"/>
<rect x="150" y="509" width="3" height="5" fill="#fff"/>
<rect x="156" y="494" width="3" height="5" fill="#fff"/>
<rect x="156" y="509" width="3" height="5" fill="#fff"/>
<rect x="162" y="494" width="3" height="5" fill="#fff"/>
<rect x="162" y="509" width="3" height="5" fill="#fff"/>
<rect x="168" y="494" width="3" height="5" fill="#fff"/>
<rect x="168" y="509" width="3" height="5" fill="#fff"/>
<rect x="173" y="494" width="3" height="5" fill="#fff"/>
<rect x="173" y="509" width="3" height="5" fill="#fff"/>
<rect x="179" y="494" width="3" height="5" fill="#fff"/>
<rect x="179" y="509" width="3" height="5" fill="#fff"/>
<rect x="185" y="494" width="3" height="5" fill="#fff"/>
<rect x="185" y="509" width="3" height="5" fill="#fff"/>
<rect x="115" y="502" width="34" height="5" fill="#fff"/>
<rect x="154" y="502" width="32" height="5" fill="#fff"/>
<path d="M107,502 h1 l2,2.5 l-2,2.5 h-1 z" fill="#fff"/>
<rect x="78.6" y="455" width="51" height="20.5" fill="#000"/>
<rect x="81" y="458" width="46.3" height="14" rx="2" fill="#fff"/>
<rect x="130" y="457" width="1" height="2" fill="#fff"/>
<rect x="130" y="471" width="1" height="3" fill="#fff"/>
<text x="104.2" y="468.2" font-size="13" text-anchor="middle" letter-spacing="-0.2">CACHE</text>
<rect x="198" y="492" width="85" height="25" fill="#000"/>
<rect x="201" y="494" width="3" height="5" fill="#fff"/>
<rect x="201" y="510" width="3" height="5" fill="#fff"/>
<rect x="207" y="494" width="3" height="5" fill="#fff"/>
<rect x="207" y="510" width="3" height="5" fill="#fff"/>
<rect x="213" y="494" width="3" height="5" fill="#fff"/>
<rect x="213" y="510" width="3" height="5" fill="#fff"/>
<rect x="219" y="494" width="3" height="5" fill="#fff"/>
<rect x="219" y="510" width="3" height="5" fill="#fff"/>
<rect x="224" y="494" width="3" height="5" fill="#fff"/>
<rect x="224" y="510" width="3" height="5" fill="#fff"/>
<rect x="230" y="494" width="3" height="5" fill="#fff"/>
<rect x="230" y="510" width="3" height="5" fill="#fff"/>
<rect x="236" y="494" width="3" height="5" fill="#fff"/>
<rect x="236" y="510" width="3" height="5" fill="#fff"/>
<rect x="242" y="494" width="3" height="5" fill="#fff"/>
<rect x="242" y="510" width="3" height="5" fill="#fff"/>
<rect x="248" y="494" width="3" height="5" fill="#fff"/>
<rect x="248" y="510" width="3" height="5" fill="#fff"/>
<rect x="254" y="494" width="3" height="5" fill="#fff"/>
<rect x="254" y="510" width="3" height="5" fill="#fff"/>
<rect x="259" y="494" width="3" height="5" fill="#fff"/>
<rect x="259" y="510" width="3" height="5" fill="#fff"/>
<rect x="265" y="494" width="3" height="5" fill="#fff"/>
<rect x="265" y="510" width="3" height="5" fill="#fff"/>
<rect x="271" y="494" width="3" height="5" fill="#fff"/>
<rect x="271" y="510" width="3" height="5" fill="#fff"/>
<rect x="277" y="494" width="3" height="5" fill="#fff"/>
<rect x="277" y="510" width="3" height="5" fill="#fff"/>
<rect x="206" y="502" width="18" height="5" fill="#fff"/>
<rect x="257" y="502" width="21" height="5" fill="#fff"/>
<path d="M198,502 h1 l2,2.5 l-2,2.5 h-1 z" fill="#fff"/>
<rect x="224" y="494" width="33" height="21" fill="#000"/>
<rect x="225.5" y="494.5" width="31" height="20" rx="3" fill="none" stroke="#fff" stroke-width="1" stroke-dasharray="3 2.5"/>
<rect x="227" y="497" width="28" height="14" rx="2.5" fill="#fff"/>
<text x="240.8" y="506.9" font-size="12.5" text-anchor="middle" letter-spacing="0.6">TAG</text>
<rect x="493.5" y="350.5" width="225" height="18" fill="#fff" stroke="#000" stroke-width="1"/>
<rect x="492.5" y="357.5" width="8" height="7" fill="#fff" stroke="#000" stroke-width="1"/>
<rect x="500" y="350" width="4" height="17" fill="#000"/>
<path d="M510.5,351 V355.5 H513.5 V364.5 H504 M504,355.5 H506.5 V357.5 H510.5 V355.5" fill="none" stroke="#000" stroke-width="1"/>
<rect x="518" y="352" width="174" height="14" fill="#000"/>
<rect x="518" y="358" width="175" height="8" fill="#000"/>
<line x1="519" y1="366.5" x2="692" y2="366.5" stroke="#000" stroke-width="1" stroke-dasharray="2 1"/>
<rect x="521" y="359" width="4" height="6" fill="#fff"/>
<rect x="522" y="353" width="1" height="5" fill="#fff"/>
<rect x="527" y="359" width="4" height="6" fill="#fff"/>
<rect x="528" y="353" width="1" height="5" fill="#fff"/>
<rect x="533" y="359" width="5" height="6" fill="#fff"/>
<rect x="534" y="353" width="2" height="5" fill="#fff"/>
<rect x="539" y="359" width="4" height="6" fill="#fff"/>
<rect x="540" y="353" width="2" height="5" fill="#fff"/>
<rect x="545" y="359" width="4" height="6" fill="#fff"/>
<rect x="546" y="353" width="2" height="5" fill="#fff"/>
<rect x="550" y="359" width="4" height="6" fill="#fff"/>
<rect x="551" y="353" width="2" height="5" fill="#fff"/>
<rect x="556" y="359" width="5" height="6" fill="#fff"/>
<rect x="557" y="353" width="1" height="5" fill="#fff"/>
<rect x="562" y="359" width="4" height="6" fill="#fff"/>
<rect x="563" y="353" width="1" height="5" fill="#fff"/>
<rect x="568" y="359" width="4" height="6" fill="#fff"/>
<rect x="569" y="353" width="1" height="5" fill="#fff"/>
<rect x="574" y="359" width="4" height="6" fill="#fff"/>
<rect x="575" y="353" width="1" height="5" fill="#fff"/>
<rect x="580" y="359" width="5" height="6" fill="#fff"/>
<rect x="581" y="353" width="2" height="5" fill="#fff"/>
<rect x="586" y="359" width="4" height="6" fill="#fff"/>
<rect x="587" y="353" width="2" height="5" fill="#fff"/>
<rect x="592" y="359" width="4" height="6" fill="#fff"/>
<rect x="593" y="353" width="2" height="5" fill="#fff"/>
<rect x="598" y="359" width="4" height="6" fill="#fff"/>
<rect x="599" y="353" width="2" height="5" fill="#fff"/>
<rect x="604" y="359" width="4" height="6" fill="#fff"/>
<rect x="605" y="353" width="1" height="5" fill="#fff"/>
<rect x="609" y="359" width="4" height="6" fill="#fff"/>
<rect x="610" y="353" width="1" height="5" fill="#fff"/>
<rect x="615" y="359" width="4" height="6" fill="#fff"/>
<rect x="616" y="353" width="1" height="5" fill="#fff"/>
<rect x="621" y="359" width="4" height="6" fill="#fff"/>
<rect x="622" y="353" width="1" height="5" fill="#fff"/>
<rect x="627" y="359" width="5" height="6" fill="#fff"/>
<rect x="628" y="353" width="2" height="5" fill="#fff"/>
<rect x="633" y="359" width="4" height="6" fill="#fff"/>
<rect x="634" y="353" width="2" height="5" fill="#fff"/>
<rect x="639" y="359" width="4" height="6" fill="#fff"/>
<rect x="640" y="353" width="2" height="5" fill="#fff"/>
<rect x="645" y="359" width="4" height="6" fill="#fff"/>
<rect x="646" y="353" width="2" height="5" fill="#fff"/>
<rect x="651" y="359" width="5" height="6" fill="#fff"/>
<rect x="652" y="353" width="1" height="5" fill="#fff"/>
<rect x="657" y="359" width="4" height="6" fill="#fff"/>
<rect x="658" y="353" width="1" height="5" fill="#fff"/>
<rect x="662" y="359" width="4" height="6" fill="#fff"/>
<rect x="663" y="353" width="1" height="5" fill="#fff"/>
<rect x="668" y="359" width="4" height="6" fill="#fff"/>
<rect x="669" y="353" width="1" height="5" fill="#fff"/>
<rect x="674" y="359" width="5" height="6" fill="#fff"/>
<rect x="675" y="353" width="2" height="5" fill="#fff"/>
<rect x="680" y="359" width="4" height="6" fill="#fff"/>
<rect x="681" y="353" width="2" height="5" fill="#fff"/>
<rect x="686" y="359" width="4" height="6" fill="#fff"/>
<rect x="687" y="353" width="2" height="5" fill="#fff"/>
<rect x="691" y="358" width="1" height="7" fill="#fff"/>
<path d="M699.5,351 V356.5 H697.5 V365.5 H705.5 V357 M699.5,357.5 H704.5 V354.5 H707" fill="none" stroke="#000" stroke-width="1"/>
<rect x="707" y="351" width="2" height="16" fill="#000"/>
<rect x="707" y="366" width="4" height="1" fill="#000"/>
<rect x="710" y="351" width="1" height="17" fill="#000"/>
<rect x="710" y="357" width="8" height="1" fill="#000"/>
<rect x="710" y="364" width="8" height="1" fill="#000"/>
<rect x="493.5" y="370.5" width="225" height="18" fill="#fff" stroke="#000" stroke-width="1"/>
<rect x="492.5" y="377.5" width="8" height="7" fill="#fff" stroke="#000" stroke-width="1"/>
<rect x="500" y="370" width="4" height="17" fill="#000"/>
<path d="M510.5,371 V375.5 H513.5 V384.5 H504 M504,375.5 H506.5 V377.5 H510.5 V375.5" fill="none" stroke="#000" stroke-width="1"/>
<rect x="518" y="372" width="174" height="14" fill="#000"/>
<rect x="518" y="378" width="175" height="8" fill="#000"/>
<line x1="519" y1="386.5" x2="692" y2="386.5" stroke="#000" stroke-width="1" stroke-dasharray="2 1"/>
<rect x="521" y="379" width="4" height="6" fill="#fff"/>
<rect x="522" y="373" width="1" height="5" fill="#fff"/>
<rect x="527" y="379" width="4" height="6" fill="#fff"/>
<rect x="528" y="373" width="1" height="5" fill="#fff"/>
<rect x="533" y="379" width="5" height="6" fill="#fff"/>
<rect x="534" y="373" width="2" height="5" fill="#fff"/>
<rect x="539" y="379" width="4" height="6" fill="#fff"/>
<rect x="540" y="373" width="2" height="5" fill="#fff"/>
<rect x="545" y="379" width="4" height="6" fill="#fff"/>
<rect x="546" y="373" width="2" height="5" fill="#fff"/>
<rect x="550" y="379" width="4" height="6" fill="#fff"/>
<rect x="551" y="373" width="2" height="5" fill="#fff"/>
<rect x="556" y="379" width="5" height="6" fill="#fff"/>
<rect x="557" y="373" width="1" height="5" fill="#fff"/>
<rect x="562" y="379" width="4" height="6" fill="#fff"/>
<rect x="563" y="373" width="1" height="5" fill="#fff"/>
<rect x="568" y="379" width="4" height="6" fill="#fff"/>
<rect x="569" y="373" width="1" height="5" fill="#fff"/>
<rect x="574" y="379" width="4" height="6" fill="#fff"/>
<rect x="575" y="373" width="1" height="5" fill="#fff"/>
<rect x="580" y="379" width="5" height="6" fill="#fff"/>
<rect x="581" y="373" width="2" height="5" fill="#fff"/>
<rect x="586" y="379" width="4" height="6" fill="#fff"/>
<rect x="587" y="373" width="2" height="5" fill="#fff"/>
<rect x="592" y="379" width="4" height="6" fill="#fff"/>
<rect x="593" y="373" width="2" height="5" fill="#fff"/>
<rect x="598" y="379" width="4" height="6" fill="#fff"/>
<rect x="599" y="373" width="2" height="5" fill="#fff"/>
<rect x="604" y="379" width="4" height="6" fill="#fff"/>
<rect x="605" y="373" width="1" height="5" fill="#fff"/>
<rect x="609" y="379" width="4" height="6" fill="#fff"/>
<rect x="610" y="373" width="1" height="5" fill="#fff"/>
<rect x="615" y="379" width="4" height="6" fill="#fff"/>
<rect x="616" y="373" width="1" height="5" fill="#fff"/>
<rect x="621" y="379" width="4" height="6" fill="#fff"/>
<rect x="622" y="373" width="1" height="5" fill="#fff"/>
<rect x="627" y="379" width="5" height="6" fill="#fff"/>
<rect x="628" y="373" width="2" height="5" fill="#fff"/>
<rect x="633" y="379" width="4" height="6" fill="#fff"/>
<rect x="634" y="373" width="2" height="5" fill="#fff"/>
<rect x="639" y="379" width="4" height="6" fill="#fff"/>
<rect x="640" y="373" width="2" height="5" fill="#fff"/>
<rect x="645" y="379" width="4" height="6" fill="#fff"/>
<rect x="646" y="373" width="2" height="5" fill="#fff"/>
<rect x="651" y="379" width="5" height="6" fill="#fff"/>
<rect x="652" y="373" width="1" height="5" fill="#fff"/>
<rect x="657" y="379" width="4" height="6" fill="#fff"/>
<rect x="658" y="373" width="1" height="5" fill="#fff"/>
<rect x="662" y="379" width="4" height="6" fill="#fff"/>
<rect x="663" y="373" width="1" height="5" fill="#fff"/>
<rect x="668" y="379" width="4" height="6" fill="#fff"/>
<rect x="669" y="373" width="1" height="5" fill="#fff"/>
<rect x="674" y="379" width="5" height="6" fill="#fff"/>
<rect x="675" y="373" width="2" height="5" fill="#fff"/>
<rect x="680" y="379" width="4" height="6" fill="#fff"/>
<rect x="681" y="373" width="2" height="5" fill="#fff"/>
<rect x="686" y="379" width="4" height="6" fill="#fff"/>
<rect x="687" y="373" width="2" height="5" fill="#fff"/>
<rect x="691" y="378" width="1" height="7" fill="#fff"/>
<path d="M699.5,371 V376.5 H697.5 V385.5 H705.5 V377 M699.5,377.5 H704.5 V374.5 H707" fill="none" stroke="#000" stroke-width="1"/>
<rect x="707" y="371" width="2" height="16" fill="#000"/>
<rect x="707" y="386" width="4" height="1" fill="#000"/>
<rect x="710" y="371" width="1" height="17" fill="#000"/>
<rect x="710" y="377" width="8" height="1" fill="#000"/>
<rect x="710" y="384" width="8" height="1" fill="#000"/>
<rect x="493.5" y="390.5" width="225" height="18" fill="#fff" stroke="#000" stroke-width="1"/>
<rect x="492.5" y="397.5" width="8" height="7" fill="#fff" stroke="#000" stroke-width="1"/>
<rect x="500" y="390" width="4" height="17" fill="#000"/>
<path d="M510.5,391 V395.5 H513.5 V404.5 H504 M504,395.5 H506.5 V397.5 H510.5 V395.5" fill="none" stroke="#000" stroke-width="1"/>
<rect x="518" y="392" width="174" height="14" fill="#000"/>
<rect x="518" y="398" width="175" height="8" fill="#000"/>
<line x1="519" y1="406.5" x2="692" y2="406.5" stroke="#000" stroke-width="1" stroke-dasharray="2 1"/>
<rect x="521" y="399" width="4" height="6" fill="#fff"/>
<rect x="522" y="393" width="1" height="5" fill="#fff"/>
<rect x="527" y="399" width="4" height="6" fill="#fff"/>
<rect x="528" y="393" width="1" height="5" fill="#fff"/>
<rect x="533" y="399" width="5" height="6" fill="#fff"/>
<rect x="534" y="393" width="2" height="5" fill="#fff"/>
<rect x="539" y="399" width="4" height="6" fill="#fff"/>
<rect x="540" y="393" width="2" height="5" fill="#fff"/>
<rect x="545" y="399" width="4" height="6" fill="#fff"/>
<rect x="546" y="393" width="2" height="5" fill="#fff"/>
<rect x="550" y="399" width="4" height="6" fill="#fff"/>
<rect x="551" y="393" width="2" height="5" fill="#fff"/>
<rect x="556" y="399" width="5" height="6" fill="#fff"/>
<rect x="557" y="393" width="1" height="5" fill="#fff"/>
<rect x="562" y="399" width="4" height="6" fill="#fff"/>
<rect x="563" y="393" width="1" height="5" fill="#fff"/>
<rect x="568" y="399" width="4" height="6" fill="#fff"/>
<rect x="569" y="393" width="1" height="5" fill="#fff"/>
<rect x="574" y="399" width="4" height="6" fill="#fff"/>
<rect x="575" y="393" width="1" height="5" fill="#fff"/>
<rect x="580" y="399" width="5" height="6" fill="#fff"/>
<rect x="581" y="393" width="2" height="5" fill="#fff"/>
<rect x="586" y="399" width="4" height="6" fill="#fff"/>
<rect x="587" y="393" width="2" height="5" fill="#fff"/>
<rect x="592" y="399" width="4" height="6" fill="#fff"/>
<rect x="593" y="393" width="2" height="5" fill="#fff"/>
<rect x="598" y="399" width="4" height="6" fill="#fff"/>
<rect x="599" y="393" width="2" height="5" fill="#fff"/>
<rect x="604" y="399" width="4" height="6" fill="#fff"/>
<rect x="605" y="393" width="1" height="5" fill="#fff"/>
<rect x="609" y="399" width="4" height="6" fill="#fff"/>
<rect x="610" y="393" width="1" height="5" fill="#fff"/>
<rect x="615" y="399" width="4" height="6" fill="#fff"/>
<rect x="616" y="393" width="1" height="5" fill="#fff"/>
<rect x="621" y="399" width="4" height="6" fill="#fff"/>
<rect x="622" y="393" width="1" height="5" fill="#fff"/>
<rect x="627" y="399" width="5" height="6" fill="#fff"/>
<rect x="628" y="393" width="2" height="5" fill="#fff"/>
<rect x="633" y="399" width="4" height="6" fill="#fff"/>
<rect x="634" y="393" width="2" height="5" fill="#fff"/>
<rect x="639" y="399" width="4" height="6" fill="#fff"/>
<rect x="640" y="393" width="2" height="5" fill="#fff"/>
<rect x="645" y="399" width="4" height="6" fill="#fff"/>
<rect x="646" y="393" width="2" height="5" fill="#fff"/>
<rect x="651" y="399" width="5" height="6" fill="#fff"/>
<rect x="652" y="393" width="1" height="5" fill="#fff"/>
<rect x="657" y="399" width="4" height="6" fill="#fff"/>
<rect x="658" y="393" width="1" height="5" fill="#fff"/>
<rect x="662" y="399" width="4" height="6" fill="#fff"/>
<rect x="663" y="393" width="1" height="5" fill="#fff"/>
<rect x="668" y="399" width="4" height="6" fill="#fff"/>
<rect x="669" y="393" width="1" height="5" fill="#fff"/>
<rect x="674" y="399" width="5" height="6" fill="#fff"/>
<rect x="675" y="393" width="2" height="5" fill="#fff"/>
<rect x="680" y="399" width="4" height="6" fill="#fff"/>
<rect x="681" y="393" width="2" height="5" fill="#fff"/>
<rect x="686" y="399" width="4" height="6" fill="#fff"/>
<rect x="687" y="393" width="2" height="5" fill="#fff"/>
<rect x="691" y="398" width="1" height="7" fill="#fff"/>
<path d="M699.5,391 V396.5 H697.5 V405.5 H705.5 V397 M699.5,397.5 H704.5 V394.5 H707" fill="none" stroke="#000" stroke-width="1"/>
<rect x="707" y="391" width="2" height="16" fill="#000"/>
<rect x="707" y="406" width="4" height="1" fill="#000"/>
<rect x="710" y="391" width="1" height="17" fill="#000"/>
<rect x="710" y="397" width="8" height="1" fill="#000"/>
<rect x="710" y="404" width="8" height="1" fill="#000"/>
<rect x="493.5" y="410.5" width="225" height="18" fill="#fff" stroke="#000" stroke-width="1"/>
<rect x="492.5" y="417.5" width="8" height="7" fill="#fff" stroke="#000" stroke-width="1"/>
<rect x="500" y="410" width="4" height="17" fill="#000"/>
<path d="M510.5,411 V415.5 H513.5 V424.5 H504 M504,415.5 H506.5 V417.5 H510.5 V415.5" fill="none" stroke="#000" stroke-width="1"/>
<rect x="518" y="412" width="174" height="14" fill="#000"/>
<rect x="518" y="418" width="175" height="8" fill="#000"/>
<line x1="519" y1="426.5" x2="692" y2="426.5" stroke="#000" stroke-width="1" stroke-dasharray="2 1"/>
<rect x="521" y="419" width="4" height="6" fill="#fff"/>
<rect x="522" y="413" width="1" height="5" fill="#fff"/>
<rect x="527" y="419" width="4" height="6" fill="#fff"/>
<rect x="528" y="413" width="1" height="5" fill="#fff"/>
<rect x="533" y="419" width="5" height="6" fill="#fff"/>
<rect x="534" y="413" width="2" height="5" fill="#fff"/>
<rect x="539" y="419" width="4" height="6" fill="#fff"/>
<rect x="540" y="413" width="2" height="5" fill="#fff"/>
<rect x="545" y="419" width="4" height="6" fill="#fff"/>
<rect x="546" y="413" width="2" height="5" fill="#fff"/>
<rect x="550" y="419" width="4" height="6" fill="#fff"/>
<rect x="551" y="413" width="2" height="5" fill="#fff"/>
<rect x="556" y="419" width="5" height="6" fill="#fff"/>
<rect x="557" y="413" width="1" height="5" fill="#fff"/>
<rect x="562" y="419" width="4" height="6" fill="#fff"/>
<rect x="563" y="413" width="1" height="5" fill="#fff"/>
<rect x="568" y="419" width="4" height="6" fill="#fff"/>
<rect x="569" y="413" width="1" height="5" fill="#fff"/>
<rect x="574" y="419" width="4" height="6" fill="#fff"/>
<rect x="575" y="413" width="1" height="5" fill="#fff"/>
<rect x="580" y="419" width="5" height="6" fill="#fff"/>
<rect x="581" y="413" width="2" height="5" fill="#fff"/>
<rect x="586" y="419" width="4" height="6" fill="#fff"/>
<rect x="587" y="413" width="2" height="5" fill="#fff"/>
<rect x="592" y="419" width="4" height="6" fill="#fff"/>
<rect x="593" y="413" width="2" height="5" fill="#fff"/>
<rect x="598" y="419" width="4" height="6" fill="#fff"/>
<rect x="599" y="413" width="2" height="5" fill="#fff"/>
<rect x="604" y="419" width="4" height="6" fill="#fff"/>
<rect x="605" y="413" width="1" height="5" fill="#fff"/>
<rect x="609" y="419" width="4" height="6" fill="#fff"/>
<rect x="610" y="413" width="1" height="5" fill="#fff"/>
<rect x="615" y="419" width="4" height="6" fill="#fff"/>
<rect x="616" y="413" width="1" height="5" fill="#fff"/>
<rect x="621" y="419" width="4" height="6" fill="#fff"/>
<rect x="622" y="413" width="1" height="5" fill="#fff"/>
<rect x="627" y="419" width="5" height="6" fill="#fff"/>
<rect x="628" y="413" width="2" height="5" fill="#fff"/>
<rect x="633" y="419" width="4" height="6" fill="#fff"/>
<rect x="634" y="413" width="2" height="5" fill="#fff"/>
<rect x="639" y="419" width="4" height="6" fill="#fff"/>
<rect x="640" y="413" width="2" height="5" fill="#fff"/>
<rect x="645" y="419" width="4" height="6" fill="#fff"/>
<rect x="646" y="413" width="2" height="5" fill="#fff"/>
<rect x="651" y="419" width="5" height="6" fill="#fff"/>
<rect x="652" y="413" width="1" height="5" fill="#fff"/>
<rect x="657" y="419" width="4" height="6" fill="#fff"/>
<rect x="658" y="413" width="1" height="5" fill="#fff"/>
<rect x="662" y="419" width="4" height="6" fill="#fff"/>
<rect x="663" y="413" width="1" height="5" fill="#fff"/>
<rect x="668" y="419" width="4" height="6" fill="#fff"/>
<rect x="669" y="413" width="1" height="5" fill="#fff"/>
<rect x="674" y="419" width="5" height="6" fill="#fff"/>
<rect x="675" y="413" width="2" height="5" fill="#fff"/>
<rect x="680" y="419" width="4" height="6" fill="#fff"/>
<rect x="681" y="413" width="2" height="5" fill="#fff"/>
<rect x="686" y="419" width="4" height="6" fill="#fff"/>
<rect x="687" y="413" width="2" height="5" fill="#fff"/>
<rect x="691" y="418" width="1" height="7" fill="#fff"/>
<path d="M699.5,411 V416.5 H697.5 V425.5 H705.5 V417 M699.5,417.5 H704.5 V414.5 H707" fill="none" stroke="#000" stroke-width="1"/>
<rect x="707" y="411" width="2" height="16" fill="#000"/>
<rect x="707" y="426" width="4" height="1" fill="#000"/>
<rect x="710" y="411" width="1" height="17" fill="#000"/>
<rect x="710" y="417" width="8" height="1" fill="#000"/>
<rect x="710" y="424" width="8" height="1" fill="#000"/>
<rect x="493.5" y="430.5" width="225" height="18" fill="#fff" stroke="#000" stroke-width="1"/>
<rect x="492.5" y="437.5" width="8" height="7" fill="#fff" stroke="#000" stroke-width="1"/>
<rect x="500" y="430" width="4" height="17" fill="#000"/>
<path d="M510.5,431 V435.5 H513.5 V444.5 H504 M504,435.5 H506.5 V437.5 H510.5 V435.5" fill="none" stroke="#000" stroke-width="1"/>
<rect x="518" y="432" width="174" height="14" fill="#000"/>
<rect x="518" y="438" width="175" height="8" fill="#000"/>
<line x1="519" y1="446.5" x2="692" y2="446.5" stroke="#000" stroke-width="1" stroke-dasharray="2 1"/>
<rect x="521" y="439" width="4" height="6" fill="#fff"/>
<rect x="522" y="433" width="1" height="5" fill="#fff"/>
<rect x="527" y="439" width="4" height="6" fill="#fff"/>
<rect x="528" y="433" width="1" height="5" fill="#fff"/>
<rect x="533" y="439" width="5" height="6" fill="#fff"/>
<rect x="534" y="433" width="2" height="5" fill="#fff"/>
<rect x="539" y="439" width="4" height="6" fill="#fff"/>
<rect x="540" y="433" width="2" height="5" fill="#fff"/>
<rect x="545" y="439" width="4" height="6" fill="#fff"/>
<rect x="546" y="433" width="2" height="5" fill="#fff"/>
<rect x="550" y="439" width="4" height="6" fill="#fff"/>
<rect x="551" y="433" width="2" height="5" fill="#fff"/>
<rect x="556" y="439" width="5" height="6" fill="#fff"/>
<rect x="557" y="433" width="1" height="5" fill="#fff"/>
<rect x="562" y="439" width="4" height="6" fill="#fff"/>
<rect x="563" y="433" width="1" height="5" fill="#fff"/>
<rect x="568" y="439" width="4" height="6" fill="#fff"/>
<rect x="569" y="433" width="1" height="5" fill="#fff"/>
<rect x="574" y="439" width="4" height="6" fill="#fff"/>
<rect x="575" y="433" width="1" height="5" fill="#fff"/>
<rect x="580" y="439" width="5" height="6" fill="#fff"/>
<rect x="581" y="433" width="2" height="5" fill="#fff"/>
<rect x="586" y="439" width="4" height="6" fill="#fff"/>
<rect x="587" y="433" width="2" height="5" fill="#fff"/>
<rect x="592" y="439" width="4" height="6" fill="#fff"/>
<rect x="593" y="433" width="2" height="5" fill="#fff"/>
<rect x="598" y="439" width="4" height="6" fill="#fff"/>
<rect x="599" y="433" width="2" height="5" fill="#fff"/>
<rect x="604" y="439" width="4" height="6" fill="#fff"/>
<rect x="605" y="433" width="1" height="5" fill="#fff"/>
<rect x="609" y="439" width="4" height="6" fill="#fff"/>
<rect x="610" y="433" width="1" height="5" fill="#fff"/>
<rect x="615" y="439" width="4" height="6" fill="#fff"/>
<rect x="616" y="433" width="1" height="5" fill="#fff"/>
<rect x="621" y="439" width="4" height="6" fill="#fff"/>
<rect x="622" y="433" width="1" height="5" fill="#fff"/>
<rect x="627" y="439" width="5" height="6" fill="#fff"/>
<rect x="628" y="433" width="2" height="5" fill="#fff"/>
<rect x="633" y="439" width="4" height="6" fill="#fff"/>
<rect x="634" y="433" width="2" height="5" fill="#fff"/>
<rect x="639" y="439" width="4" height="6" fill="#fff"/>
<rect x="640" y="433" width="2" height="5" fill="#fff"/>
<rect x="645" y="439" width="4" height="6" fill="#fff"/>
<rect x="646" y="433" width="2" height="5" fill="#fff"/>
<rect x="651" y="439" width="5" height="6" fill="#fff"/>
<rect x="652" y="433" width="1" height="5" fill="#fff"/>
<rect x="657" y="439" width="4" height="6" fill="#fff"/>
<rect x="658" y="433" width="1" height="5" fill="#fff"/>
<rect x="662" y="439" width="4" height="6" fill="#fff"/>
<rect x="663" y="433" width="1" height="5" fill="#fff"/>
<rect x="668" y="439" width="4" height="6" fill="#fff"/>
<rect x="669" y="433" width="1" height="5" fill="#fff"/>
<rect x="674" y="439" width="5" height="6" fill="#fff"/>
<rect x="675" y="433" width="2" height="5" fill="#fff"/>
<rect x="680" y="439" width="4" height="6" fill="#fff"/>
<rect x="681" y="433" width="2" height="5" fill="#fff"/>
<rect x="686" y="439" width="4" height="6" fill="#fff"/>
<rect x="687" y="433" width="2" height="5" fill="#fff"/>
<rect x="691" y="438" width="1" height="7" fill="#fff"/>
<path d="M699.5,431 V436.5 H697.5 V445.5 H705.5 V437 M699.5,437.5 H704.5 V434.5 H707" fill="none" stroke="#000" stroke-width="1"/>
<rect x="707" y="431" width="2" height="16" fill="#000"/>
<rect x="707" y="446" width="4" height="1" fill="#000"/>
<rect x="710" y="431" width="1" height="17" fill="#000"/>
<rect x="710" y="437" width="8" height="1" fill="#000"/>
<rect x="710" y="444" width="8" height="1" fill="#000"/>
<rect x="493.5" y="450.5" width="225" height="18" fill="#fff" stroke="#000" stroke-width="1"/>
<rect x="492.5" y="457.5" width="8" height="7" fill="#fff" stroke="#000" stroke-width="1"/>
<rect x="500" y="450" width="4" height="17" fill="#000"/>
<path d="M510.5,451 V455.5 H513.5 V464.5 H504 M504,455.5 H506.5 V457.5 H510.5 V455.5" fill="none" stroke="#000" stroke-width="1"/>
<rect x="518" y="452" width="174" height="14" fill="#000"/>
<rect x="518" y="458" width="175" height="8" fill="#000"/>
<line x1="519" y1="466.5" x2="692" y2="466.5" stroke="#000" stroke-width="1" stroke-dasharray="2 1"/>
<rect x="521" y="459" width="4" height="6" fill="#fff"/>
<rect x="522" y="453" width="1" height="5" fill="#fff"/>
<rect x="527" y="459" width="4" height="6" fill="#fff"/>
<rect x="528" y="453" width="1" height="5" fill="#fff"/>
<rect x="533" y="459" width="5" height="6" fill="#fff"/>
<rect x="534" y="453" width="2" height="5" fill="#fff"/>
<rect x="539" y="459" width="4" height="6" fill="#fff"/>
<rect x="540" y="453" width="2" height="5" fill="#fff"/>
<rect x="545" y="459" width="4" height="6" fill="#fff"/>
<rect x="546" y="453" width="2" height="5" fill="#fff"/>
<rect x="550" y="459" width="4" height="6" fill="#fff"/>
<rect x="551" y="453" width="2" height="5" fill="#fff"/>
<rect x="556" y="459" width="5" height="6" fill="#fff"/>
<rect x="557" y="453" width="1" height="5" fill="#fff"/>
<rect x="562" y="459" width="4" height="6" fill="#fff"/>
<rect x="563" y="453" width="1" height="5" fill="#fff"/>
<rect x="568" y="459" width="4" height="6" fill="#fff"/>
<rect x="569" y="453" width="1" height="5" fill="#fff"/>
<rect x="574" y="459" width="4" height="6" fill="#fff"/>
<rect x="575" y="453" width="1" height="5" fill="#fff"/>
<rect x="580" y="459" width="5" height="6" fill="#fff"/>
<rect x="581" y="453" width="2" height="5" fill="#fff"/>
<rect x="586" y="459" width="4" height="6" fill="#fff"/>
<rect x="587" y="453" width="2" height="5" fill="#fff"/>
<rect x="592" y="459" width="4" height="6" fill="#fff"/>
<rect x="593" y="453" width="2" height="5" fill="#fff"/>
<rect x="598" y="459" width="4" height="6" fill="#fff"/>
<rect x="599" y="453" width="2" height="5" fill="#fff"/>
<rect x="604" y="459" width="4" height="6" fill="#fff"/>
<rect x="605" y="453" width="1" height="5" fill="#fff"/>
<rect x="609" y="459" width="4" height="6" fill="#fff"/>
<rect x="610" y="453" width="1" height="5" fill="#fff"/>
<rect x="615" y="459" width="4" height="6" fill="#fff"/>
<rect x="616" y="453" width="1" height="5" fill="#fff"/>
<rect x="621" y="459" width="4" height="6" fill="#fff"/>
<rect x="622" y="453" width="1" height="5" fill="#fff"/>
<rect x="627" y="459" width="5" height="6" fill="#fff"/>
<rect x="628" y="453" width="2" height="5" fill="#fff"/>
<rect x="633" y="459" width="4" height="6" fill="#fff"/>
<rect x="634" y="453" width="2" height="5" fill="#fff"/>
<rect x="639" y="459" width="4" height="6" fill="#fff"/>
<rect x="640" y="453" width="2" height="5" fill="#fff"/>
<rect x="645" y="459" width="4" height="6" fill="#fff"/>
<rect x="646" y="453" width="2" height="5" fill="#fff"/>
<rect x="651" y="459" width="5" height="6" fill="#fff"/>
<rect x="652" y="453" width="1" height="5" fill="#fff"/>
<rect x="657" y="459" width="4" height="6" fill="#fff"/>
<rect x="658" y="453" width="1" height="5" fill="#fff"/>
<rect x="662" y="459" width="4" height="6" fill="#fff"/>
<rect x="663" y="453" width="1" height="5" fill="#fff"/>
<rect x="668" y="459" width="4" height="6" fill="#fff"/>
<rect x="669" y="453" width="1" height="5" fill="#fff"/>
<rect x="674" y="459" width="5" height="6" fill="#fff"/>
<rect x="675" y="453" width="2" height="5" fill="#fff"/>
<rect x="680" y="459" width="4" height="6" fill="#fff"/>
<rect x="681" y="453" width="2" height="5" fill="#fff"/>
<rect x="686" y="459" width="4" height="6" fill="#fff"/>
<rect x="687" y="453" width="2" height="5" fill="#fff"/>
<rect x="691" y="458" width="1" height="7" fill="#fff"/>
<path d="M699.5,451 V456.5 H697.5 V465.5 H705.5 V457 M699.5,457.5 H704.5 V454.5 H707" fill="none" stroke="#000" stroke-width="1"/>
<rect x="707" y="451" width="2" height="16" fill="#000"/>
<rect x="707" y="466" width="4" height="1" fill="#000"/>
<rect x="710" y="451" width="1" height="17" fill="#000"/>
<rect x="710" y="457" width="8" height="1" fill="#000"/>
<rect x="710" y="464" width="8" height="1" fill="#000"/>
<rect x="493.5" y="470.5" width="225" height="18" fill="#fff" stroke="#000" stroke-width="1"/>
<rect x="492.5" y="477.5" width="8" height="7" fill="#fff" stroke="#000" stroke-width="1"/>
<rect x="500" y="470" width="4" height="17" fill="#000"/>
<path d="M510.5,471 V475.5 H513.5 V484.5 H504 M504,475.5 H506.5 V477.5 H510.5 V475.5" fill="none" stroke="#000" stroke-width="1"/>
<rect x="518" y="472" width="174" height="14" fill="#000"/>
<rect x="518" y="478" width="175" height="8" fill="#000"/>
<line x1="519" y1="486.5" x2="692" y2="486.5" stroke="#000" stroke-width="1" stroke-dasharray="2 1"/>
<rect x="521" y="479" width="4" height="6" fill="#fff"/>
<rect x="522" y="473" width="1" height="5" fill="#fff"/>
<rect x="527" y="479" width="4" height="6" fill="#fff"/>
<rect x="528" y="473" width="1" height="5" fill="#fff"/>
<rect x="533" y="479" width="5" height="6" fill="#fff"/>
<rect x="534" y="473" width="2" height="5" fill="#fff"/>
<rect x="539" y="479" width="4" height="6" fill="#fff"/>
<rect x="540" y="473" width="2" height="5" fill="#fff"/>
<rect x="545" y="479" width="4" height="6" fill="#fff"/>
<rect x="546" y="473" width="2" height="5" fill="#fff"/>
<rect x="550" y="479" width="4" height="6" fill="#fff"/>
<rect x="551" y="473" width="2" height="5" fill="#fff"/>
<rect x="556" y="479" width="5" height="6" fill="#fff"/>
<rect x="557" y="473" width="1" height="5" fill="#fff"/>
<rect x="562" y="479" width="4" height="6" fill="#fff"/>
<rect x="563" y="473" width="1" height="5" fill="#fff"/>
<rect x="568" y="479" width="4" height="6" fill="#fff"/>
<rect x="569" y="473" width="1" height="5" fill="#fff"/>
<rect x="574" y="479" width="4" height="6" fill="#fff"/>
<rect x="575" y="473" width="1" height="5" fill="#fff"/>
<rect x="580" y="479" width="5" height="6" fill="#fff"/>
<rect x="581" y="473" width="2" height="5" fill="#fff"/>
<rect x="586" y="479" width="4" height="6" fill="#fff"/>
<rect x="587" y="473" width="2" height="5" fill="#fff"/>
<rect x="592" y="479" width="4" height="6" fill="#fff"/>
<rect x="593" y="473" width="2" height="5" fill="#fff"/>
<rect x="598" y="479" width="4" height="6" fill="#fff"/>
<rect x="599" y="473" width="2" height="5" fill="#fff"/>
<rect x="604" y="479" width="4" height="6" fill="#fff"/>
<rect x="605" y="473" width="1" height="5" fill="#fff"/>
<rect x="609" y="479" width="4" height="6" fill="#fff"/>
<rect x="610" y="473" width="1" height="5" fill="#fff"/>
<rect x="615" y="479" width="4" height="6" fill="#fff"/>
<rect x="616" y="473" width="1" height="5" fill="#fff"/>
<rect x="621" y="479" width="4" height="6" fill="#fff"/>
<rect x="622" y="473" width="1" height="5" fill="#fff"/>
<rect x="627" y="479" width="5" height="6" fill="#fff"/>
<rect x="628" y="473" width="2" height="5" fill="#fff"/>
<rect x="633" y="479" width="4" height="6" fill="#fff"/>
<rect x="634" y="473" width="2" height="5" fill="#fff"/>
<rect x="639" y="479" width="4" height="6" fill="#fff"/>
<rect x="640" y="473" width="2" height="5" fill="#fff"/>
<rect x="645" y="479" width="4" height="6" fill="#fff"/>
<rect x="646" y="473" width="2" height="5" fill="#fff"/>
<rect x="651" y="479" width="5" height="6" fill="#fff"/>
<rect x="652" y="473" width="1" height="5" fill="#fff"/>
<rect x="657" y="479" width="4" height="6" fill="#fff"/>
<rect x="658" y="473" width="1" height="5" fill="#fff"/>
<rect x="662" y="479" width="4" height="6" fill="#fff"/>
<rect x="663" y="473" width="1" height="5" fill="#fff"/>
<rect x="668" y="479" width="4" height="6" fill="#fff"/>
<rect x="669" y="473" width="1" height="5" fill="#fff"/>
<rect x="674" y="479" width="5" height="6" fill="#fff"/>
<rect x="675" y="473" width="2" height="5" fill="#fff"/>
<rect x="680" y="479" width="4" height="6" fill="#fff"/>
<rect x="681" y="473" width="2" height="5" fill="#fff"/>
<rect x="686" y="479" width="4" height="6" fill="#fff"/>
<rect x="687" y="473" width="2" height="5" fill="#fff"/>
<rect x="691" y="478" width="1" height="7" fill="#fff"/>
<path d="M699.5,471 V476.5 H697.5 V485.5 H705.5 V477 M699.5,477.5 H704.5 V474.5 H707" fill="none" stroke="#000" stroke-width="1"/>
<rect x="707" y="471" width="2" height="16" fill="#000"/>
<rect x="707" y="486" width="4" height="1" fill="#000"/>
<rect x="710" y="471" width="1" height="17" fill="#000"/>
<rect x="710" y="477" width="8" height="1" fill="#000"/>
<rect x="710" y="484" width="8" height="1" fill="#000"/>
<rect x="493.5" y="490.5" width="225" height="18" fill="#fff" stroke="#000" stroke-width="1"/>
<rect x="492.5" y="497.5" width="8" height="7" fill="#fff" stroke="#000" stroke-width="1"/>
<rect x="500" y="490" width="4" height="17" fill="#000"/>
<path d="M510.5,491 V495.5 H513.5 V504.5 H504 M504,495.5 H506.5 V497.5 H510.5 V495.5" fill="none" stroke="#000" stroke-width="1"/>
<rect x="518" y="492" width="174" height="14" fill="#000"/>
<rect x="518" y="498" width="175" height="8" fill="#000"/>
<line x1="519" y1="506.5" x2="692" y2="506.5" stroke="#000" stroke-width="1" stroke-dasharray="2 1"/>
<rect x="521" y="499" width="4" height="6" fill="#fff"/>
<rect x="522" y="493" width="1" height="5" fill="#fff"/>
<rect x="527" y="499" width="4" height="6" fill="#fff"/>
<rect x="528" y="493" width="1" height="5" fill="#fff"/>
<rect x="533" y="499" width="5" height="6" fill="#fff"/>
<rect x="534" y="493" width="2" height="5" fill="#fff"/>
<rect x="539" y="499" width="4" height="6" fill="#fff"/>
<rect x="540" y="493" width="2" height="5" fill="#fff"/>
<rect x="545" y="499" width="4" height="6" fill="#fff"/>
<rect x="546" y="493" width="2" height="5" fill="#fff"/>
<rect x="550" y="499" width="4" height="6" fill="#fff"/>
<rect x="551" y="493" width="2" height="5" fill="#fff"/>
<rect x="556" y="499" width="5" height="6" fill="#fff"/>
<rect x="557" y="493" width="1" height="5" fill="#fff"/>
<rect x="562" y="499" width="4" height="6" fill="#fff"/>
<rect x="563" y="493" width="1" height="5" fill="#fff"/>
<rect x="568" y="499" width="4" height="6" fill="#fff"/>
<rect x="569" y="493" width="1" height="5" fill="#fff"/>
<rect x="574" y="499" width="4" height="6" fill="#fff"/>
<rect x="575" y="493" width="1" height="5" fill="#fff"/>
<rect x="580" y="499" width="5" height="6" fill="#fff"/>
<rect x="581" y="493" width="2" height="5" fill="#fff"/>
<rect x="586" y="499" width="4" height="6" fill="#fff"/>
<rect x="587" y="493" width="2" height="5" fill="#fff"/>
<rect x="592" y="499" width="4" height="6" fill="#fff"/>
<rect x="593" y="493" width="2" height="5" fill="#fff"/>
<rect x="598" y="499" width="4" height="6" fill="#fff"/>
<rect x="599" y="493" width="2" height="5" fill="#fff"/>
<rect x="604" y="499" width="4" height="6" fill="#fff"/>
<rect x="605" y="493" width="1" height="5" fill="#fff"/>
<rect x="609" y="499" width="4" height="6" fill="#fff"/>
<rect x="610" y="493" width="1" height="5" fill="#fff"/>
<rect x="615" y="499" width="4" height="6" fill="#fff"/>
<rect x="616" y="493" width="1" height="5" fill="#fff"/>
<rect x="621" y="499" width="4" height="6" fill="#fff"/>
<rect x="622" y="493" width="1" height="5" fill="#fff"/>
<rect x="627" y="499" width="5" height="6" fill="#fff"/>
<rect x="628" y="493" width="2" height="5" fill="#fff"/>
<rect x="633" y="499" width="4" height="6" fill="#fff"/>
<rect x="634" y="493" width="2" height="5" fill="#fff"/>
<rect x="639" y="499" width="4" height="6" fill="#fff"/>
<rect x="640" y="493" width="2" height="5" fill="#fff"/>
<rect x="645" y="499" width="4" height="6" fill="#fff"/>
<rect x="646" y="493" width="2" height="5" fill="#fff"/>
<rect x="651" y="499" width="5" height="6" fill="#fff"/>
<rect x="652" y="493" width="1" height="5" fill="#fff"/>
<rect x="657" y="499" width="4" height="6" fill="#fff"/>
<rect x="658" y="493" width="1" height="5" fill="#fff"/>
<rect x="662" y="499" width="4" height="6" fill="#fff"/>
<rect x="663" y="493" width="1" height="5" fill="#fff"/>
<rect x="668" y="499" width="4" height="6" fill="#fff"/>
<rect x="669" y="493" width="1" height="5" fill="#fff"/>
<rect x="674" y="499" width="5" height="6" fill="#fff"/>
<rect x="675" y="493" width="2" height="5" fill="#fff"/>
<rect x="680" y="499" width="4" height="6" fill="#fff"/>
<rect x="681" y="493" width="2" height="5" fill="#fff"/>
<rect x="686" y="499" width="4" height="6" fill="#fff"/>
<rect x="687" y="493" width="2" height="5" fill="#fff"/>
<rect x="691" y="498" width="1" height="7" fill="#fff"/>
<path d="M699.5,491 V496.5 H697.5 V505.5 H705.5 V497 M699.5,497.5 H704.5 V494.5 H707" fill="none" stroke="#000" stroke-width="1"/>
<rect x="707" y="491" width="2" height="16" fill="#000"/>
<rect x="707" y="506" width="4" height="1" fill="#000"/>
<rect x="710" y="491" width="1" height="17" fill="#000"/>
<rect x="710" y="497" width="8" height="1" fill="#000"/>
<rect x="710" y="504" width="8" height="1" fill="#000"/>
<rect x="573" y="380" width="60" height="19.6" fill="#000"/>
<line x1="574.5" y1="379.5" x2="631.5" y2="379.5" stroke="#fff" stroke-width="1" stroke-dasharray="3.2 2.8"/>
<rect x="573" y="379" width="1" height="2" fill="#fff"/>
<rect x="575" y="382" width="56" height="15" rx="2" fill="#fff"/>
<text x="576.8" y="392.5" font-size="13" text-anchor="start" letter-spacing="0.2">BANK 0</text>
<rect x="573" y="461.6" width="60" height="18.8" fill="#000"/>
<line x1="574.5" y1="461.1" x2="631.5" y2="461.1" stroke="#fff" stroke-width="1" stroke-dasharray="3.2 2.8"/>
<rect x="573" y="460.6" width="1" height="2" fill="#fff"/>
<rect x="575" y="464" width="56" height="14" rx="2" fill="#fff"/>
<text x="576.8" y="474.5" font-size="13" text-anchor="start" letter-spacing="0.2">BANK 1</text>
<rect x="364.5" y="445.5" width="111" height="24" fill="#fff" stroke="#000" stroke-width="1"/>
<rect x="365" y="452" width="110" height="1" fill="#000"/>
<rect x="367.7" y="448" width="3.6" height="1.2" fill="#000" shape-rendering="geometricPrecision"/>
<rect x="366.3" y="449" width="6.4" height="3" rx="1.2" fill="#000" shape-rendering="geometricPrecision"/>
<rect x="367.6" y="450" width="3.8" height="1" fill="#fff" shape-rendering="geometricPrecision"/>
<rect x="365.7" y="451.4" width="7.4" height="1.6" fill="#000" shape-rendering="geometricPrecision"/>
<rect x="365.7" y="455.8" width="7.2" height="1.8" fill="#000" shape-rendering="geometricPrecision"/>
<rect x="376.76" y="448" width="3.6" height="1.2" fill="#000" shape-rendering="geometricPrecision"/>
<rect x="375.36" y="449" width="6.4" height="3" rx="1.2" fill="#000" shape-rendering="geometricPrecision"/>
<rect x="376.66" y="450" width="3.8" height="1" fill="#fff" shape-rendering="geometricPrecision"/>
<rect x="374.76" y="451.4" width="7.4" height="1.6" fill="#000" shape-rendering="geometricPrecision"/>
<rect x="374.76" y="455.8" width="7.2" height="1.8" fill="#000" shape-rendering="geometricPrecision"/>
<rect x="385.82" y="448" width="3.6" height="1.2" fill="#000" shape-rendering="geometricPrecision"/>
<rect x="384.42" y="449" width="6.4" height="3" rx="1.2" fill="#000" shape-rendering="geometricPrecision"/>
<rect x="385.72" y="450" width="3.8" height="1" fill="#fff" shape-rendering="geometricPrecision"/>
<rect x="383.82" y="451.4" width="7.4" height="1.6" fill="#000" shape-rendering="geometricPrecision"/>
<rect x="383.82" y="455.8" width="7.2" height="1.8" fill="#000" shape-rendering="geometricPrecision"/>
<rect x="394.88" y="448" width="3.6" height="1.2" fill="#000" shape-rendering="geometricPrecision"/>
<rect x="393.48" y="449" width="6.4" height="3" rx="1.2" fill="#000" shape-rendering="geometricPrecision"/>
<rect x="394.78" y="450" width="3.8" height="1" fill="#fff" shape-rendering="geometricPrecision"/>
<rect x="392.88" y="451.4" width="7.4" height="1.6" fill="#000" shape-rendering="geometricPrecision"/>
<rect x="392.88" y="455.8" width="7.2" height="1.8" fill="#000" shape-rendering="geometricPrecision"/>
<rect x="403.94" y="448" width="3.6" height="1.2" fill="#000" shape-rendering="geometricPrecision"/>
<rect x="402.54" y="449" width="6.4" height="3" rx="1.2" fill="#000" shape-rendering="geometricPrecision"/>
<rect x="403.84" y="450" width="3.8" height="1" fill="#fff" shape-rendering="geometricPrecision"/>
<rect x="401.94" y="451.4" width="7.4" height="1.6" fill="#000" shape-rendering="geometricPrecision"/>
<rect x="401.94" y="455.8" width="7.2" height="1.8" fill="#000" shape-rendering="geometricPrecision"/>
<rect x="413" y="448" width="3.6" height="1.2" fill="#000" shape-rendering="geometricPrecision"/>
<rect x="411.6" y="449" width="6.4" height="3" rx="1.2" fill="#000" shape-rendering="geometricPrecision"/>
<rect x="412.9" y="450" width="3.8" height="1" fill="#fff" shape-rendering="geometricPrecision"/>
<rect x="411" y="451.4" width="7.4" height="1.6" fill="#000" shape-rendering="geometricPrecision"/>
<rect x="411" y="455.8" width="7.2" height="1.8" fill="#000" shape-rendering="geometricPrecision"/>
<rect x="422.06" y="448" width="3.6" height="1.2" fill="#000" shape-rendering="geometricPrecision"/>
<rect x="420.66" y="449" width="6.4" height="3" rx="1.2" fill="#000" shape-rendering="geometricPrecision"/>
<rect x="421.96" y="450" width="3.8" height="1" fill="#fff" shape-rendering="geometricPrecision"/>
<rect x="420.06" y="451.4" width="7.4" height="1.6" fill="#000" shape-rendering="geometricPrecision"/>
<rect x="420.06" y="455.8" width="7.2" height="1.8" fill="#000" shape-rendering="geometricPrecision"/>
<rect x="431.12" y="448" width="3.6" height="1.2" fill="#000" shape-rendering="geometricPrecision"/>
<rect x="429.72" y="449" width="6.4" height="3" rx="1.2" fill="#000" shape-rendering="geometricPrecision"/>
<rect x="431.02" y="450" width="3.8" height="1" fill="#fff" shape-rendering="geometricPrecision"/>
<rect x="429.12" y="451.4" width="7.4" height="1.6" fill="#000" shape-rendering="geometricPrecision"/>
<rect x="429.12" y="455.8" width="7.2" height="1.8" fill="#000" shape-rendering="geometricPrecision"/>
<rect x="440.18" y="448" width="3.6" height="1.2" fill="#000" shape-rendering="geometricPrecision"/>
<rect x="438.78" y="449" width="6.4" height="3" rx="1.2" fill="#000" shape-rendering="geometricPrecision"/>
<rect x="440.08" y="450" width="3.8" height="1" fill="#fff" shape-rendering="geometricPrecision"/>
<rect x="438.18" y="451.4" width="7.4" height="1.6" fill="#000" shape-rendering="geometricPrecision"/>
<rect x="438.18" y="455.8" width="7.2" height="1.8" fill="#000" shape-rendering="geometricPrecision"/>
<rect x="449.24" y="448" width="3.6" height="1.2" fill="#000" shape-rendering="geometricPrecision"/>
<rect x="447.84" y="449" width="6.4" height="3" rx="1.2" fill="#000" shape-rendering="geometricPrecision"/>
<rect x="449.14" y="450" width="3.8" height="1" fill="#fff" shape-rendering="geometricPrecision"/>
<rect x="447.24" y="451.4" width="7.4" height="1.6" fill="#000" shape-rendering="geometricPrecision"/>
<rect x="447.24" y="455.8" width="7.2" height="1.8" fill="#000" shape-rendering="geometricPrecision"/>
<rect x="458.3" y="448" width="3.6" height="1.2" fill="#000" shape-rendering="geometricPrecision"/>
<rect x="456.9" y="449" width="6.4" height="3" rx="1.2" fill="#000" shape-rendering="geometricPrecision"/>
<rect x="458.2" y="450" width="3.8" height="1" fill="#fff" shape-rendering="geometricPrecision"/>
<rect x="456.3" y="451.4" width="7.4" height="1.6" fill="#000" shape-rendering="geometricPrecision"/>
<rect x="456.3" y="455.8" width="7.2" height="1.8" fill="#000" shape-rendering="geometricPrecision"/>
<rect x="467.36" y="448" width="3.6" height="1.2" fill="#000" shape-rendering="geometricPrecision"/>
<rect x="465.96" y="449" width="6.4" height="3" rx="1.2" fill="#000" shape-rendering="geometricPrecision"/>
<rect x="467.26" y="450" width="3.8" height="1" fill="#fff" shape-rendering="geometricPrecision"/>
<rect x="465.36" y="451.4" width="7.4" height="1.6" fill="#000" shape-rendering="geometricPrecision"/>
<rect x="465.36" y="455.8" width="7.2" height="1.8" fill="#000" shape-rendering="geometricPrecision"/>
<rect x="369.6" y="459.9" width="6.5" height="6.4" fill="#fff" stroke="#000" stroke-width="1.25" shape-rendering="geometricPrecision"/>
<rect x="379.05" y="459.9" width="6.5" height="6.4" fill="#fff" stroke="#000" stroke-width="1.25" shape-rendering="geometricPrecision"/>
<rect x="388.5" y="459.9" width="6.5" height="6.4" fill="#fff" stroke="#000" stroke-width="1.25" shape-rendering="geometricPrecision"/>
<rect x="397.95" y="459.9" width="6.5" height="6.4" fill="#fff" stroke="#000" stroke-width="1.25" shape-rendering="geometricPrecision"/>
<rect x="407.4" y="459.9" width="6.5" height="6.4" fill="#fff" stroke="#000" stroke-width="1.25" shape-rendering="geometricPrecision"/>
<rect x="416.85" y="459.9" width="6.5" height="6.4" fill="#fff" stroke="#000" stroke-width="1.25" shape-rendering="geometricPrecision"/>
<rect x="426.3" y="459.9" width="6.5" height="6.4" fill="#fff" stroke="#000" stroke-width="1.25" shape-rendering="geometricPrecision"/>
<rect x="435.75" y="459.9" width="6.5" height="6.4" fill="#fff" stroke="#000" stroke-width="1.25" shape-rendering="geometricPrecision"/>
<rect x="445.2" y="459.9" width="6.5" height="6.4" fill="#fff" stroke="#000" stroke-width="1.25" shape-rendering="geometricPrecision"/>
<rect x="454.65" y="459.9" width="6.5" height="6.4" fill="#fff" stroke="#000" stroke-width="1.25" shape-rendering="geometricPrecision"/>
<rect x="464.1" y="459.9" width="6.5" height="6.4" fill="#fff" stroke="#000" stroke-width="1.25" shape-rendering="geometricPrecision"/>
<rect x="365" y="459" width="1.5" height="1.5" fill="#000"/>
<rect x="365" y="464" width="1.5" height="1.5" fill="#000"/>
<rect x="365" y="461.5" width="1" height="1.5" fill="#000"/>
<rect x="473.5" y="459" width="1.5" height="1.5" fill="#000"/>
<rect x="473.5" y="464" width="1.5" height="1.5" fill="#000"/>
<rect x="474" y="461.5" width="1" height="1.5" fill="#000"/>
<rect x="755" y="423" width="25" height="37" fill="#000"/>
<rect x="780" y="419" width="2" height="45" fill="#000"/>
<rect x="782" y="416" width="4" height="51" fill="#000"/>
<rect x="753" y="429" width="2" height="25" fill="#000"/>
<rect x="749.5" y="432.5" width="5" height="7" fill="#fff" stroke="#000" stroke-width="1"/>
<rect x="749.5" y="443.5" width="5" height="8" fill="#fff" stroke="#000" stroke-width="1"/>
<rect x="754" y="440" width="2" height="3" fill="#fff"/>
<rect x="755" y="434" width="1.5" height="1" fill="#fff"/>
<rect x="755" y="436" width="1.5" height="1" fill="#fff"/>
<rect x="755" y="438" width="1.5" height="1" fill="#fff"/>
<rect x="755" y="445" width="1.5" height="1" fill="#fff"/>
<rect x="755" y="447" width="1.5" height="1" fill="#fff"/>
<rect x="755" y="449" width="1.5" height="1" fill="#fff"/>
<rect x="20" y="25" width="26" height="7" fill="#000"/>
<rect x="21" y="26" width="24" height="1" fill="#fff"/>
<rect x="21" y="27" width="1" height="4" fill="#fff"/>
<rect x="27" y="27" width="1" height="4" fill="#fff"/>
<rect x="32" y="27" width="2" height="4" fill="#fff"/>
<rect x="38" y="27" width="1" height="4" fill="#fff"/>
<rect x="44" y="27" width="1" height="4" fill="#fff"/>
<rect x="23" y="28" width="3" height="2" fill="#fff"/>
<rect x="25" y="49" width="14" height="7" fill="#000"/>
<rect x="26" y="50" width="1" height="5" fill="#fff"/>
<rect x="31" y="50" width="1" height="5" fill="#fff"/>
<rect x="37" y="50" width="1" height="5" fill="#fff"/>
<rect x="25" y="64" width="14" height="6" fill="#000"/>
<rect x="26" y="65" width="1" height="4" fill="#fff"/>
<rect x="31" y="65" width="1" height="4" fill="#fff"/>
<rect x="37" y="65" width="1" height="4" fill="#fff"/>
<rect x="14" y="136" width="7" height="31" fill="#000"/>
<rect x="15" y="137" width="5" height="1" fill="#fff"/>
<rect x="16" y="139" width="3" height="2" fill="#fff"/>
<rect x="15" y="142" width="5" height="1" fill="#fff"/>
<rect x="15" y="148" width="5" height="1" fill="#fff"/>
<rect x="15" y="154" width="5" height="1" fill="#fff"/>
<rect x="15" y="159" width="5" height="2" fill="#fff"/>
<rect x="15" y="165" width="5" height="1" fill="#fff"/>
<rect x="28" y="136" width="7" height="26" fill="#000"/>
<rect x="29" y="137" width="5" height="1" fill="#fff"/>
<rect x="33" y="137" width="1" height="24" fill="#fff"/>
<rect x="30" y="139" width="2" height="2" fill="#fff"/>
<rect x="29" y="142" width="4" height="1" fill="#fff"/>
<rect x="29" y="148" width="4" height="1" fill="#fff"/>
<rect x="29" y="154" width="4" height="1" fill="#fff"/>
<rect x="29" y="159" width="5" height="2" fill="#fff"/>
<rect x="43" y="136" width="7" height="14" fill="#000"/>
<rect x="44" y="137" width="5" height="1" fill="#fff"/>
<rect x="44" y="137" width="1" height="12" fill="#fff"/>
<rect x="44" y="148" width="5" height="1" fill="#fff"/>
<rect x="45" y="142" width="4" height="1" fill="#fff"/>
<rect x="325" y="196" width="19" height="7" fill="#000"/>
<rect x="327" y="198" width="3" height="3" fill="#fff"/>
<rect x="331" y="197" width="1" height="5" fill="#fff"/>
<rect x="337" y="197" width="1" height="5" fill="#fff"/>
<rect x="342" y="197" width="1" height="5" fill="#fff"/>
<rect x="251" y="262" width="6" height="19" fill="#000"/>
<rect x="252" y="263" width="4" height="1" fill="#fff"/>
<rect x="253" y="265" width="2" height="2" fill="#fff"/>
<rect x="252" y="268" width="4" height="2" fill="#fff"/>
<rect x="252" y="274" width="4" height="1" fill="#fff"/>
<rect x="374" y="48" width="14" height="7" fill="#000"/>
<rect x="375" y="49" width="12" height="1" fill="#fff"/>
<rect x="375" y="50" width="1" height="4" fill="#fff"/>
<rect x="380" y="50" width="2" height="4" fill="#fff"/>
<rect x="386" y="50" width="1" height="4" fill="#fff"/>
<rect x="62" y="19" width="25" height="19" rx="3.8" fill="#000"/>
<polygon points="63,25.3 56.166,27.2871 56.142,29.8869 63,32" fill="#fff" stroke="#000" stroke-width="1.8" stroke-linejoin="round" shape-rendering="geometricPrecision"/>
<line x1="56.48" y1="28.59" x2="50.938" y2="28.539" stroke="#000" stroke-width="4.4" shape-rendering="geometricPrecision"/>
<line x1="50.938" y1="28.539" x2="46.7" y2="28.5" stroke="#000" stroke-width="2.4" shape-rendering="geometricPrecision"/>
<rect x="64" y="21" width="21" height="15" rx="2.4" fill="#fff"/>
<line x1="63" y1="26.238" x2="63" y2="31.062" stroke="#fff" stroke-width="4.4" stroke-linecap="butt"/>
<text x="74" y="32" font-size="13" text-anchor="middle" >J1</text>
<rect x="54" y="43" width="26" height="18" rx="3.8" fill="#000"/>
<polygon points="55,48.8 48.4842,51.542 48.4958,53.342 55,56" fill="#fff" stroke="#000" stroke-width="1.8" stroke-linejoin="round" shape-rendering="geometricPrecision"/>
<line x1="48.8" y1="52.44" x2="43.53" y2="52.474" stroke="#000" stroke-width="3.6" shape-rendering="geometricPrecision"/>
<line x1="43.53" y1="52.474" x2="39.5" y2="52.5" stroke="#000" stroke-width="1.8" shape-rendering="geometricPrecision"/>
<rect x="55.5" y="44" width="22.0" height="14.5" rx="2.4" fill="#fff"/>
<line x1="55" y1="49.808" x2="55" y2="54.992" stroke="#fff" stroke-width="4.4" stroke-linecap="butt"/>
<text x="66.5" y="56" font-size="13" text-anchor="middle" >J2</text>
<rect x="18" y="87" width="26" height="19" rx="3.8" fill="#000"/>
<polygon points="28.2,88 30.9322,80.6683 32.5318,80.6317 35.6,88" fill="#fff" stroke="#000" stroke-width="1.8" stroke-linejoin="round" shape-rendering="geometricPrecision"/>
<line x1="31.74" y1="81" x2="31.604" y2="75.05" stroke="#000" stroke-width="3.4" shape-rendering="geometricPrecision"/>
<line x1="31.604" y1="75.05" x2="31.5" y2="70.5" stroke="#000" stroke-width="1.8" shape-rendering="geometricPrecision"/>
<rect x="20" y="88.5" width="21.5" height="15.0" rx="2.4" fill="#fff"/>
<line x1="29.236" y1="88" x2="34.564" y2="88" stroke="#fff" stroke-width="4.4" stroke-linecap="butt"/>
<text x="30.5" y="100" font-size="13" text-anchor="middle" >J3</text>
<rect x="27" y="111" width="25" height="19" rx="3.8" fill="#000"/>
<polygon points="28.5,126 25.7485,130.974 26.2635,131.586 32.5,129" fill="#fff" stroke="#000" stroke-width="1.8" stroke-linejoin="round" shape-rendering="geometricPrecision"/>
<line x1="26.22" y1="131.1" x2="22.582" y2="134.16" stroke="#000" stroke-width="2.6" shape-rendering="geometricPrecision"/>
<line x1="22.582" y1="134.16" x2="19.8" y2="136.5" stroke="#000" stroke-width="1.6" shape-rendering="geometricPrecision"/>
<rect x="29" y="114" width="21" height="14" rx="2.4" fill="#fff"/>
<line x1="29.06" y1="126.42" x2="31.94" y2="128.58" stroke="#fff" stroke-width="4.4" stroke-linecap="butt"/>
<text x="39.5" y="124" font-size="13" text-anchor="middle" >J4</text>
<rect x="65" y="134" width="26" height="18" rx="3.8" fill="#000"/>
<polygon points="66,139.3 59.4997,142.087 59.4803,144.087 66,147" fill="#fff" stroke="#000" stroke-width="1.8" stroke-linejoin="round" shape-rendering="geometricPrecision"/>
<line x1="59.8" y1="143.09" x2="54.53" y2="143.039" stroke="#000" stroke-width="3.8" shape-rendering="geometricPrecision"/>
<line x1="54.53" y1="143.039" x2="50.5" y2="143" stroke="#000" stroke-width="2" shape-rendering="geometricPrecision"/>
<rect x="67" y="136" width="22" height="13.6" rx="2.4" fill="#fff"/>
<line x1="66" y1="140.378" x2="66" y2="145.922" stroke="#fff" stroke-width="4.4" stroke-linecap="butt"/>
<text x="77.5" y="147" font-size="13" text-anchor="middle" >J5</text>
<rect x="40" y="168" width="25" height="19" rx="3.8" fill="#000"/>
<polygon points="41,172.3 38.9381,167.022 39.6699,166.34 45,169" fill="#fff" stroke="#000" stroke-width="1.8" stroke-linejoin="round" shape-rendering="geometricPrecision"/>
<line x1="39.48" y1="166.87" x2="36.488" y2="163.657" stroke="#000" stroke-width="2.8" shape-rendering="geometricPrecision"/>
<line x1="36.488" y1="163.657" x2="34.2" y2="161.2" stroke="#000" stroke-width="1.8" shape-rendering="geometricPrecision"/>
<rect x="42.4" y="170" width="20.6" height="14.6" rx="2.4" fill="#fff"/>
<line x1="41.56" y1="171.838" x2="44.44" y2="169.462" stroke="#fff" stroke-width="4.4" stroke-linecap="butt"/>
<text x="52" y="181" font-size="13" text-anchor="middle" >J6</text>
<rect x="318" y="161" width="34" height="19" rx="3.8" fill="#000"/>
<polygon points="330.8,178.5 333.566,185.84 335.266,185.86 338.2,178.5" fill="#fff" stroke="#000" stroke-width="1.8" stroke-linejoin="round" shape-rendering="geometricPrecision"/>
<line x1="334.42" y1="185.5" x2="334.352" y2="191.45" stroke="#000" stroke-width="3.5" shape-rendering="geometricPrecision"/>
<line x1="334.352" y1="191.45" x2="334.3" y2="196" stroke="#000" stroke-width="1.8" shape-rendering="geometricPrecision"/>
<rect x="319.5" y="162.5" width="30.5" height="15.5" rx="2.4" fill="#fff"/>
<line x1="331.836" y1="178.5" x2="337.164" y2="178.5" stroke="#fff" stroke-width="4.4" stroke-linecap="butt"/>
<text x="334.5" y="174" font-size="13" text-anchor="middle" letter-spacing="0.5">JP1</text>
<rect x="274" y="263" width="35" height="18" rx="3.8" fill="#000"/>
<polygon points="275.5,268.6 268.145,271.342 268.155,272.942 275.5,275.6" fill="#fff" stroke="#000" stroke-width="1.8" stroke-linejoin="round" shape-rendering="geometricPrecision"/>
<line x1="268.5" y1="272.14" x2="262.55" y2="272.174" stroke="#000" stroke-width="3.4" shape-rendering="geometricPrecision"/>
<line x1="262.55" y1="272.174" x2="258" y2="272.2" stroke="#000" stroke-width="1.6" shape-rendering="geometricPrecision"/>
<rect x="276" y="264.5" width="31" height="14.5" rx="2.4" fill="#fff"/>
<line x1="275.5" y1="269.58" x2="275.5" y2="274.62" stroke="#fff" stroke-width="4.4" stroke-linecap="butt"/>
<text x="291" y="276" font-size="13" text-anchor="middle" letter-spacing="0.5">JP2</text>
<rect x="365" y="13" width="34" height="19" rx="3.8" fill="#000"/>
<polygon points="377.8,30.5 380.44,37.8257 382.14,37.8743 385.2,30.5" fill="#fff" stroke="#000" stroke-width="1.8" stroke-linejoin="round" shape-rendering="geometricPrecision"/>
<line x1="381.3" y1="37.5" x2="381.13" y2="43.45" stroke="#000" stroke-width="3.5" shape-rendering="geometricPrecision"/>
<line x1="381.13" y1="43.45" x2="381" y2="48" stroke="#000" stroke-width="1.6" shape-rendering="geometricPrecision"/>
<rect x="366.5" y="14.5" width="30.5" height="15.5" rx="2.4" fill="#fff"/>
<line x1="378.836" y1="30.5" x2="384.164" y2="30.5" stroke="#fff" stroke-width="4.4" stroke-linecap="butt"/>
<text x="381.5" y="26" font-size="13" text-anchor="middle" letter-spacing="0.5">JP3</text>
<text x="615.3" y="44" font-size="12">MH<tspan font-size="10.4" letter-spacing="0.75">0844</tspan></text>
</svg>
</body></html>
